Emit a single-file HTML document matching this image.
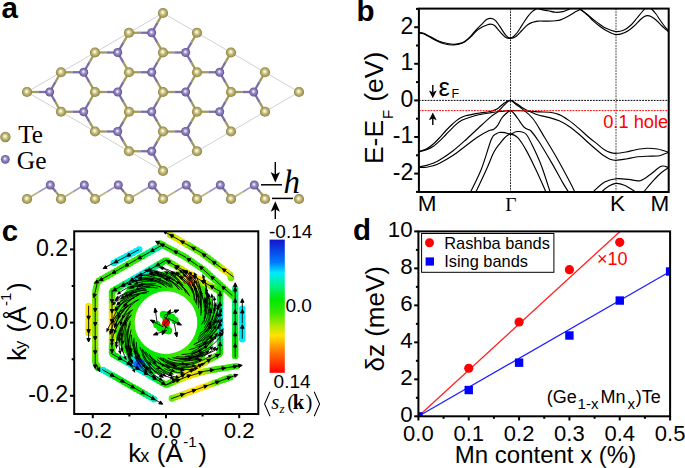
<!DOCTYPE html>
<html><head><meta charset="utf-8"><style>
html,body{margin:0;padding:0;background:#fff;width:685px;height:468px;overflow:hidden}
svg{display:block}
</style></head><body>
<svg width="685" height="468" viewBox="0 0 685 468">
<defs>
<radialGradient id="gTe" cx="0.5" cy="0.5" r="0.5" fx="0.45" fy="0.42">
 <stop offset="0" stop-color="#fffff4"/><stop offset="0.2" stop-color="#f2edc4"/><stop offset="0.45" stop-color="#c9c184"/><stop offset="0.8" stop-color="#a59b58"/><stop offset="1" stop-color="#847b42"/>
</radialGradient>
<radialGradient id="gGe" cx="0.5" cy="0.5" r="0.5" fx="0.45" fy="0.42">
 <stop offset="0" stop-color="#ffffff"/><stop offset="0.18" stop-color="#dcd6f2"/><stop offset="0.42" stop-color="#9d92c9"/><stop offset="0.78" stop-color="#7b6ca9"/><stop offset="1" stop-color="#5c4f8a"/>
</radialGradient>
<clipPath id="cb"><rect x="418.9" y="8.6" width="249.80000000000007" height="183.4"/></clipPath><clipPath id="cd"><rect x="418.4" y="231.4" width="251.7" height="184.9"/></clipPath><clipPath id="cc"><rect x="74.2" y="231.3" width="184.1" height="182.7"/></clipPath><linearGradient id="cbar" x1="0" y1="0" x2="0" y2="1"><stop offset="0" stop-color="rgb(20, 20, 205)"/><stop offset="0.17" stop-color="rgb(0, 120, 255)"/><stop offset="0.25" stop-color="rgb(0, 235, 255)"/><stop offset="0.35" stop-color="rgb(0, 240, 130)"/><stop offset="0.45" stop-color="rgb(0, 232, 0)"/><stop offset="0.55" stop-color="rgb(60, 232, 0)"/><stop offset="0.65" stop-color="rgb(180, 232, 0)"/><stop offset="0.72" stop-color="rgb(255, 228, 0)"/><stop offset="0.83" stop-color="rgb(255, 130, 0)"/><stop offset="1.0" stop-color="rgb(255, 0, 0)"/></linearGradient></defs>
<rect width="685" height="468" fill="#fff"/>
<text x="1.5" y="17.8" font-family='"Liberation Sans", sans-serif' font-size="29.5" font-weight="bold" text-anchor="start" fill="#000" >a</text>
<polygon points="27,92 163,13 299,92 163,171" fill="none" stroke="#c4c4c4" stroke-width="0.8"/>
<line x1="27" y1="92" x2="38.35" y2="92" stroke="#a39b5c" stroke-width="2.3"/>
<line x1="38.35" y1="92" x2="49.7" y2="92" stroke="#7b6fa6" stroke-width="2.3"/>
<line x1="61" y1="111.75" x2="55.35" y2="101.88" stroke="#a39b5c" stroke-width="2.3"/>
<line x1="55.35" y1="101.88" x2="49.7" y2="92" stroke="#7b6fa6" stroke-width="2.3"/>
<line x1="61" y1="111.75" x2="72.35" y2="111.75" stroke="#a39b5c" stroke-width="2.3"/>
<line x1="72.35" y1="111.75" x2="83.7" y2="111.75" stroke="#7b6fa6" stroke-width="2.3"/>
<line x1="95" y1="131.5" x2="89.35" y2="121.62" stroke="#a39b5c" stroke-width="2.3"/>
<line x1="89.35" y1="121.62" x2="83.7" y2="111.75" stroke="#7b6fa6" stroke-width="2.3"/>
<line x1="95" y1="131.5" x2="106.35" y2="131.5" stroke="#a39b5c" stroke-width="2.3"/>
<line x1="106.35" y1="131.5" x2="117.7" y2="131.5" stroke="#7b6fa6" stroke-width="2.3"/>
<line x1="129" y1="151.25" x2="123.35" y2="141.38" stroke="#a39b5c" stroke-width="2.3"/>
<line x1="123.35" y1="141.38" x2="117.7" y2="131.5" stroke="#7b6fa6" stroke-width="2.3"/>
<line x1="129" y1="151.25" x2="140.35" y2="151.25" stroke="#a39b5c" stroke-width="2.3"/>
<line x1="140.35" y1="151.25" x2="151.7" y2="151.25" stroke="#7b6fa6" stroke-width="2.3"/>
<line x1="163" y1="171" x2="157.35" y2="161.12" stroke="#a39b5c" stroke-width="2.3"/>
<line x1="157.35" y1="161.12" x2="151.7" y2="151.25" stroke="#7b6fa6" stroke-width="2.3"/>
<line x1="61" y1="72.25" x2="55.35" y2="82.12" stroke="#a39b5c" stroke-width="2.3"/>
<line x1="55.35" y1="82.12" x2="49.7" y2="92" stroke="#7b6fa6" stroke-width="2.3"/>
<line x1="61" y1="72.25" x2="72.35" y2="72.25" stroke="#a39b5c" stroke-width="2.3"/>
<line x1="72.35" y1="72.25" x2="83.7" y2="72.25" stroke="#7b6fa6" stroke-width="2.3"/>
<line x1="95" y1="92" x2="89.35" y2="101.88" stroke="#a39b5c" stroke-width="2.3"/>
<line x1="89.35" y1="101.88" x2="83.7" y2="111.75" stroke="#7b6fa6" stroke-width="2.3"/>
<line x1="95" y1="92" x2="89.35" y2="82.12" stroke="#a39b5c" stroke-width="2.3"/>
<line x1="89.35" y1="82.12" x2="83.7" y2="72.25" stroke="#7b6fa6" stroke-width="2.3"/>
<line x1="95" y1="92" x2="106.35" y2="92" stroke="#a39b5c" stroke-width="2.3"/>
<line x1="106.35" y1="92" x2="117.7" y2="92" stroke="#7b6fa6" stroke-width="2.3"/>
<line x1="129" y1="111.75" x2="123.35" y2="121.62" stroke="#a39b5c" stroke-width="2.3"/>
<line x1="123.35" y1="121.62" x2="117.7" y2="131.5" stroke="#7b6fa6" stroke-width="2.3"/>
<line x1="129" y1="111.75" x2="123.35" y2="101.88" stroke="#a39b5c" stroke-width="2.3"/>
<line x1="123.35" y1="101.88" x2="117.7" y2="92" stroke="#7b6fa6" stroke-width="2.3"/>
<line x1="129" y1="111.75" x2="140.35" y2="111.75" stroke="#a39b5c" stroke-width="2.3"/>
<line x1="140.35" y1="111.75" x2="151.7" y2="111.75" stroke="#7b6fa6" stroke-width="2.3"/>
<line x1="163" y1="131.5" x2="157.35" y2="141.38" stroke="#a39b5c" stroke-width="2.3"/>
<line x1="157.35" y1="141.38" x2="151.7" y2="151.25" stroke="#7b6fa6" stroke-width="2.3"/>
<line x1="163" y1="131.5" x2="157.35" y2="121.62" stroke="#a39b5c" stroke-width="2.3"/>
<line x1="157.35" y1="121.62" x2="151.7" y2="111.75" stroke="#7b6fa6" stroke-width="2.3"/>
<line x1="163" y1="131.5" x2="174.35" y2="131.5" stroke="#a39b5c" stroke-width="2.3"/>
<line x1="174.35" y1="131.5" x2="185.7" y2="131.5" stroke="#7b6fa6" stroke-width="2.3"/>
<line x1="197" y1="151.25" x2="191.35" y2="141.38" stroke="#a39b5c" stroke-width="2.3"/>
<line x1="191.35" y1="141.38" x2="185.7" y2="131.5" stroke="#7b6fa6" stroke-width="2.3"/>
<line x1="95" y1="52.5" x2="89.35" y2="62.38" stroke="#a39b5c" stroke-width="2.3"/>
<line x1="89.35" y1="62.38" x2="83.7" y2="72.25" stroke="#7b6fa6" stroke-width="2.3"/>
<line x1="95" y1="52.5" x2="106.35" y2="52.5" stroke="#a39b5c" stroke-width="2.3"/>
<line x1="106.35" y1="52.5" x2="117.7" y2="52.5" stroke="#7b6fa6" stroke-width="2.3"/>
<line x1="129" y1="72.25" x2="123.35" y2="82.12" stroke="#a39b5c" stroke-width="2.3"/>
<line x1="123.35" y1="82.12" x2="117.7" y2="92" stroke="#7b6fa6" stroke-width="2.3"/>
<line x1="129" y1="72.25" x2="123.35" y2="62.38" stroke="#a39b5c" stroke-width="2.3"/>
<line x1="123.35" y1="62.38" x2="117.7" y2="52.5" stroke="#7b6fa6" stroke-width="2.3"/>
<line x1="129" y1="72.25" x2="140.35" y2="72.25" stroke="#a39b5c" stroke-width="2.3"/>
<line x1="140.35" y1="72.25" x2="151.7" y2="72.25" stroke="#7b6fa6" stroke-width="2.3"/>
<line x1="163" y1="92" x2="157.35" y2="101.88" stroke="#a39b5c" stroke-width="2.3"/>
<line x1="157.35" y1="101.88" x2="151.7" y2="111.75" stroke="#7b6fa6" stroke-width="2.3"/>
<line x1="163" y1="92" x2="157.35" y2="82.12" stroke="#a39b5c" stroke-width="2.3"/>
<line x1="157.35" y1="82.12" x2="151.7" y2="72.25" stroke="#7b6fa6" stroke-width="2.3"/>
<line x1="163" y1="92" x2="174.35" y2="92" stroke="#a39b5c" stroke-width="2.3"/>
<line x1="174.35" y1="92" x2="185.7" y2="92" stroke="#7b6fa6" stroke-width="2.3"/>
<line x1="197" y1="111.75" x2="191.35" y2="121.62" stroke="#a39b5c" stroke-width="2.3"/>
<line x1="191.35" y1="121.62" x2="185.7" y2="131.5" stroke="#7b6fa6" stroke-width="2.3"/>
<line x1="197" y1="111.75" x2="191.35" y2="101.88" stroke="#a39b5c" stroke-width="2.3"/>
<line x1="191.35" y1="101.88" x2="185.7" y2="92" stroke="#7b6fa6" stroke-width="2.3"/>
<line x1="197" y1="111.75" x2="208.35" y2="111.75" stroke="#a39b5c" stroke-width="2.3"/>
<line x1="208.35" y1="111.75" x2="219.7" y2="111.75" stroke="#7b6fa6" stroke-width="2.3"/>
<line x1="231" y1="131.5" x2="225.35" y2="121.62" stroke="#a39b5c" stroke-width="2.3"/>
<line x1="225.35" y1="121.62" x2="219.7" y2="111.75" stroke="#7b6fa6" stroke-width="2.3"/>
<line x1="129" y1="32.75" x2="123.35" y2="42.62" stroke="#a39b5c" stroke-width="2.3"/>
<line x1="123.35" y1="42.62" x2="117.7" y2="52.5" stroke="#7b6fa6" stroke-width="2.3"/>
<line x1="129" y1="32.75" x2="140.35" y2="32.75" stroke="#a39b5c" stroke-width="2.3"/>
<line x1="140.35" y1="32.75" x2="151.7" y2="32.75" stroke="#7b6fa6" stroke-width="2.3"/>
<line x1="163" y1="52.5" x2="157.35" y2="62.38" stroke="#a39b5c" stroke-width="2.3"/>
<line x1="157.35" y1="62.38" x2="151.7" y2="72.25" stroke="#7b6fa6" stroke-width="2.3"/>
<line x1="163" y1="52.5" x2="157.35" y2="42.62" stroke="#a39b5c" stroke-width="2.3"/>
<line x1="157.35" y1="42.62" x2="151.7" y2="32.75" stroke="#7b6fa6" stroke-width="2.3"/>
<line x1="163" y1="52.5" x2="174.35" y2="52.5" stroke="#a39b5c" stroke-width="2.3"/>
<line x1="174.35" y1="52.5" x2="185.7" y2="52.5" stroke="#7b6fa6" stroke-width="2.3"/>
<line x1="197" y1="72.25" x2="191.35" y2="82.12" stroke="#a39b5c" stroke-width="2.3"/>
<line x1="191.35" y1="82.12" x2="185.7" y2="92" stroke="#7b6fa6" stroke-width="2.3"/>
<line x1="197" y1="72.25" x2="191.35" y2="62.38" stroke="#a39b5c" stroke-width="2.3"/>
<line x1="191.35" y1="62.38" x2="185.7" y2="52.5" stroke="#7b6fa6" stroke-width="2.3"/>
<line x1="197" y1="72.25" x2="208.35" y2="72.25" stroke="#a39b5c" stroke-width="2.3"/>
<line x1="208.35" y1="72.25" x2="219.7" y2="72.25" stroke="#7b6fa6" stroke-width="2.3"/>
<line x1="231" y1="92" x2="225.35" y2="101.88" stroke="#a39b5c" stroke-width="2.3"/>
<line x1="225.35" y1="101.88" x2="219.7" y2="111.75" stroke="#7b6fa6" stroke-width="2.3"/>
<line x1="231" y1="92" x2="225.35" y2="82.12" stroke="#a39b5c" stroke-width="2.3"/>
<line x1="225.35" y1="82.12" x2="219.7" y2="72.25" stroke="#7b6fa6" stroke-width="2.3"/>
<line x1="231" y1="92" x2="242.35" y2="92" stroke="#a39b5c" stroke-width="2.3"/>
<line x1="242.35" y1="92" x2="253.7" y2="92" stroke="#7b6fa6" stroke-width="2.3"/>
<line x1="265" y1="111.75" x2="259.35" y2="101.88" stroke="#a39b5c" stroke-width="2.3"/>
<line x1="259.35" y1="101.88" x2="253.7" y2="92" stroke="#7b6fa6" stroke-width="2.3"/>
<line x1="163" y1="13" x2="157.35" y2="22.88" stroke="#a39b5c" stroke-width="2.3"/>
<line x1="157.35" y1="22.88" x2="151.7" y2="32.75" stroke="#7b6fa6" stroke-width="2.3"/>
<line x1="197" y1="32.75" x2="191.35" y2="42.62" stroke="#a39b5c" stroke-width="2.3"/>
<line x1="191.35" y1="42.62" x2="185.7" y2="52.5" stroke="#7b6fa6" stroke-width="2.3"/>
<line x1="231" y1="52.5" x2="225.35" y2="62.38" stroke="#a39b5c" stroke-width="2.3"/>
<line x1="225.35" y1="62.38" x2="219.7" y2="72.25" stroke="#7b6fa6" stroke-width="2.3"/>
<line x1="265" y1="72.25" x2="259.35" y2="82.12" stroke="#a39b5c" stroke-width="2.3"/>
<line x1="259.35" y1="82.12" x2="253.7" y2="92" stroke="#7b6fa6" stroke-width="2.3"/>
<circle cx="27" cy="92" r="5.1" fill="url(#gTe)"/>
<circle cx="61" cy="111.75" r="5.1" fill="url(#gTe)"/>
<circle cx="95" cy="131.5" r="5.1" fill="url(#gTe)"/>
<circle cx="129" cy="151.25" r="5.1" fill="url(#gTe)"/>
<circle cx="163" cy="171" r="5.1" fill="url(#gTe)"/>
<circle cx="61" cy="72.25" r="5.1" fill="url(#gTe)"/>
<circle cx="95" cy="92" r="5.1" fill="url(#gTe)"/>
<circle cx="129" cy="111.75" r="5.1" fill="url(#gTe)"/>
<circle cx="163" cy="131.5" r="5.1" fill="url(#gTe)"/>
<circle cx="197" cy="151.25" r="5.1" fill="url(#gTe)"/>
<circle cx="95" cy="52.5" r="5.1" fill="url(#gTe)"/>
<circle cx="129" cy="72.25" r="5.1" fill="url(#gTe)"/>
<circle cx="163" cy="92" r="5.1" fill="url(#gTe)"/>
<circle cx="197" cy="111.75" r="5.1" fill="url(#gTe)"/>
<circle cx="231" cy="131.5" r="5.1" fill="url(#gTe)"/>
<circle cx="129" cy="32.75" r="5.1" fill="url(#gTe)"/>
<circle cx="163" cy="52.5" r="5.1" fill="url(#gTe)"/>
<circle cx="197" cy="72.25" r="5.1" fill="url(#gTe)"/>
<circle cx="231" cy="92" r="5.1" fill="url(#gTe)"/>
<circle cx="265" cy="111.75" r="5.1" fill="url(#gTe)"/>
<circle cx="163" cy="13" r="5.1" fill="url(#gTe)"/>
<circle cx="197" cy="32.75" r="5.1" fill="url(#gTe)"/>
<circle cx="231" cy="52.5" r="5.1" fill="url(#gTe)"/>
<circle cx="265" cy="72.25" r="5.1" fill="url(#gTe)"/>
<circle cx="299" cy="92" r="5.1" fill="url(#gTe)"/>
<circle cx="49.7" cy="92" r="4.5" fill="url(#gGe)"/>
<circle cx="83.7" cy="111.75" r="4.5" fill="url(#gGe)"/>
<circle cx="117.7" cy="131.5" r="4.5" fill="url(#gGe)"/>
<circle cx="151.7" cy="151.25" r="4.5" fill="url(#gGe)"/>
<circle cx="83.7" cy="72.25" r="4.5" fill="url(#gGe)"/>
<circle cx="117.7" cy="92" r="4.5" fill="url(#gGe)"/>
<circle cx="151.7" cy="111.75" r="4.5" fill="url(#gGe)"/>
<circle cx="185.7" cy="131.5" r="4.5" fill="url(#gGe)"/>
<circle cx="117.7" cy="52.5" r="4.5" fill="url(#gGe)"/>
<circle cx="151.7" cy="72.25" r="4.5" fill="url(#gGe)"/>
<circle cx="185.7" cy="92" r="4.5" fill="url(#gGe)"/>
<circle cx="219.7" cy="111.75" r="4.5" fill="url(#gGe)"/>
<circle cx="151.7" cy="32.75" r="4.5" fill="url(#gGe)"/>
<circle cx="185.7" cy="52.5" r="4.5" fill="url(#gGe)"/>
<circle cx="219.7" cy="72.25" r="4.5" fill="url(#gGe)"/>
<circle cx="253.7" cy="92" r="4.5" fill="url(#gGe)"/>
<line x1="27" y1="199" x2="38.65" y2="192" stroke="#bdb680" stroke-width="1.8"/>
<line x1="38.65" y1="192" x2="50.3" y2="185" stroke="#a49bc6" stroke-width="1.8"/>
<line x1="50.3" y1="185" x2="56.05" y2="192" stroke="#7b6fa6" stroke-width="2.3"/>
<line x1="56.05" y1="192" x2="61.8" y2="199" stroke="#a39b5c" stroke-width="2.3"/>
<line x1="61" y1="199" x2="72.65" y2="192" stroke="#bdb680" stroke-width="1.8"/>
<line x1="72.65" y1="192" x2="84.3" y2="185" stroke="#a49bc6" stroke-width="1.8"/>
<line x1="84.3" y1="185" x2="90.05" y2="192" stroke="#7b6fa6" stroke-width="2.3"/>
<line x1="90.05" y1="192" x2="95.8" y2="199" stroke="#a39b5c" stroke-width="2.3"/>
<line x1="95" y1="199" x2="106.65" y2="192" stroke="#bdb680" stroke-width="1.8"/>
<line x1="106.65" y1="192" x2="118.3" y2="185" stroke="#a49bc6" stroke-width="1.8"/>
<line x1="118.3" y1="185" x2="124.05" y2="192" stroke="#7b6fa6" stroke-width="2.3"/>
<line x1="124.05" y1="192" x2="129.8" y2="199" stroke="#a39b5c" stroke-width="2.3"/>
<line x1="129" y1="199" x2="140.65" y2="192" stroke="#bdb680" stroke-width="1.8"/>
<line x1="140.65" y1="192" x2="152.3" y2="185" stroke="#a49bc6" stroke-width="1.8"/>
<line x1="152.3" y1="185" x2="158.05" y2="192" stroke="#7b6fa6" stroke-width="2.3"/>
<line x1="158.05" y1="192" x2="163.8" y2="199" stroke="#a39b5c" stroke-width="2.3"/>
<line x1="163" y1="199" x2="174.65" y2="192" stroke="#bdb680" stroke-width="1.8"/>
<line x1="174.65" y1="192" x2="186.3" y2="185" stroke="#a49bc6" stroke-width="1.8"/>
<line x1="186.3" y1="185" x2="192.05" y2="192" stroke="#7b6fa6" stroke-width="2.3"/>
<line x1="192.05" y1="192" x2="197.8" y2="199" stroke="#a39b5c" stroke-width="2.3"/>
<line x1="197" y1="199" x2="208.65" y2="192" stroke="#bdb680" stroke-width="1.8"/>
<line x1="208.65" y1="192" x2="220.3" y2="185" stroke="#a49bc6" stroke-width="1.8"/>
<line x1="220.3" y1="185" x2="226.05" y2="192" stroke="#7b6fa6" stroke-width="2.3"/>
<line x1="226.05" y1="192" x2="231.8" y2="199" stroke="#a39b5c" stroke-width="2.3"/>
<line x1="231" y1="199" x2="242.65" y2="192" stroke="#bdb680" stroke-width="1.8"/>
<line x1="242.65" y1="192" x2="254.3" y2="185" stroke="#a49bc6" stroke-width="1.8"/>
<line x1="254.3" y1="185" x2="260.05" y2="192" stroke="#7b6fa6" stroke-width="2.3"/>
<line x1="260.05" y1="192" x2="265.8" y2="199" stroke="#a39b5c" stroke-width="2.3"/>
<circle cx="27" cy="199" r="5.1" fill="url(#gTe)"/>
<circle cx="61" cy="199" r="5.1" fill="url(#gTe)"/>
<circle cx="95" cy="199" r="5.1" fill="url(#gTe)"/>
<circle cx="129" cy="199" r="5.1" fill="url(#gTe)"/>
<circle cx="163" cy="199" r="5.1" fill="url(#gTe)"/>
<circle cx="197" cy="199" r="5.1" fill="url(#gTe)"/>
<circle cx="231" cy="199" r="5.1" fill="url(#gTe)"/>
<circle cx="265" cy="199" r="5.1" fill="url(#gTe)"/>
<circle cx="299" cy="199" r="5.1" fill="url(#gTe)"/>
<circle cx="50.3" cy="185" r="4.5" fill="url(#gGe)"/>
<circle cx="84.3" cy="185" r="4.5" fill="url(#gGe)"/>
<circle cx="118.3" cy="185" r="4.5" fill="url(#gGe)"/>
<circle cx="152.3" cy="185" r="4.5" fill="url(#gGe)"/>
<circle cx="186.3" cy="185" r="4.5" fill="url(#gGe)"/>
<circle cx="220.3" cy="185" r="4.5" fill="url(#gGe)"/>
<circle cx="254.3" cy="185" r="4.5" fill="url(#gGe)"/>
<circle cx="5.4" cy="137" r="5.2" fill="url(#gTe)"/>
<circle cx="5.3" cy="159.3" r="4.4" fill="url(#gGe)"/>
<text x="18.2" y="142.5" font-family='"Liberation Serif", serif' font-size="25.2" font-weight="normal" text-anchor="start" fill="#000" >Te</text>
<text x="16.8" y="168.7" font-family='"Liberation Serif", serif' font-size="25.5" font-weight="normal" text-anchor="start" fill="#000" >Ge</text>
<line x1="261" y1="184.8" x2="282" y2="184.8" stroke="#000" stroke-width="1.5"/>
<line x1="272" y1="198.4" x2="293" y2="198.4" stroke="#000" stroke-width="1.5"/>
<line x1="275.3" y1="162" x2="275.3" y2="175" stroke="#000" stroke-width="1.4"/>
<path d="M270.6,172 L275.3,182.6 L280,172 L275.3,174.5 Z" fill="#000"/>
<line x1="275.3" y1="219" x2="275.3" y2="208" stroke="#000" stroke-width="1.4"/>
<path d="M270.7,211.8 L275.3,201.3 L279.9,211.8 L275.3,209.3 Z" fill="#000"/>
<text x="283.5" y="192.8" font-family='"Liberation Serif", serif' font-size="33" font-weight="normal" text-anchor="start" fill="#000" font-style="italic">h</text>
<text x="356.6" y="21.2" font-family='"Liberation Sans", sans-serif' font-size="29.5" font-weight="bold" text-anchor="start" fill="#000" >b</text>
<line x1="418.9" y1="100.4" x2="668.7" y2="100.4" stroke="#000" stroke-width="1" stroke-dasharray="1.8,1.1"/>
<line x1="510.5" y1="8.6" x2="510.5" y2="192.0" stroke="#222" stroke-width="1" stroke-dasharray="1.8,1"/>
<line x1="616" y1="8.6" x2="616" y2="192.0" stroke="#444" stroke-width="1" stroke-dasharray="1.8,1"/>
<g clip-path="url(#cb)" fill="none" stroke="#000" stroke-width="1.15">
<path d="M419,32.6 C419.8,32.72 422.03,32.68 423.8,33.3 C425.57,33.92 427.42,35.15 429.6,36.3 C431.78,37.45 434.47,39.12 436.9,40.2 C439.33,41.28 441.52,42.12 444.2,42.8 C446.88,43.48 450.57,44.17 453,44.3 C455.43,44.43 456.87,44.08 458.8,43.6 C460.73,43.12 462.65,42.62 464.6,41.4 C466.55,40.18 468.55,38.25 470.5,36.3 C472.45,34.35 474.35,31.78 476.3,29.7 C478.25,27.62 480.5,25.48 482.2,23.8 C483.9,22.12 485.05,20.5 486.5,19.6 C487.95,18.7 489.43,18.28 490.9,18.4 C492.37,18.52 493.6,18.65 495.3,20.3 C497,21.95 499.4,25.88 501.1,28.3 C502.8,30.72 503.98,33.17 505.5,34.8 C507.02,36.43 508.45,38.2 510.2,38.1 C511.95,38 514.05,36.32 516,34.2 C517.95,32.08 519.95,28.32 521.9,25.4 C523.85,22.48 526,19 527.7,16.7 C529.4,14.4 530.75,12.85 532.1,11.6 C533.45,10.35 534.65,9.88 535.8,9.2 C536.95,8.52 538.47,7.78 539,7.5"/>
<path d="M419,33.2 C419.8,33.33 422.03,33.37 423.8,34 C425.57,34.63 427.42,35.83 429.6,37 C431.78,38.17 434.47,39.88 436.9,41 C439.33,42.12 441.52,43.03 444.2,43.7 C446.88,44.37 450.57,44.9 453,45 C455.43,45.1 456.87,44.8 458.8,44.3 C460.73,43.8 462.65,43.18 464.6,42 C466.55,40.82 468.55,39.03 470.5,37.2 C472.45,35.37 474.35,32.7 476.3,31 C478.25,29.3 480.5,27.97 482.2,27 C483.9,26.03 485.17,25.68 486.5,25.2 C487.83,24.72 488.85,24.05 490.2,24.1 C491.55,24.15 493.02,24.28 494.6,25.5 C496.18,26.72 497.88,29.45 499.7,31.4 C501.52,33.35 503.75,36.03 505.5,37.2 C507.25,38.37 508.45,38.53 510.2,38.4 C511.95,38.27 514.05,37.72 516,36.4 C517.95,35.08 519.95,32.45 521.9,30.5 C523.85,28.55 526,26.03 527.7,24.7 C529.4,23.37 530.38,23.1 532.1,22.5 C533.82,21.9 535.57,21.33 538,21.1 C540.43,20.87 543.78,21.15 546.7,21.1 C549.62,21.05 553.07,21.05 555.5,20.8 C557.93,20.55 559.12,20.4 561.3,19.6 C563.48,18.8 566.17,17.33 568.6,16 C571.03,14.67 573.95,12.68 575.9,11.6 C577.85,10.52 578.95,10.18 580.3,9.5 C581.65,8.82 583.38,7.83 584,7.5"/>
<path d="M536,7.5 C536.83,7.82 538.97,8.85 541,9.4 C543.03,9.95 545.78,10.32 548.2,10.8 C550.62,11.28 553.07,12.17 555.5,12.3 C557.93,12.43 560.62,12.08 562.8,11.6 C564.98,11.12 567.07,10.08 568.6,9.4 C570.13,8.72 571.43,7.82 572,7.5"/>
<path d="M574,6.5 C575,6.95 578,8.03 580,9.2 C582,10.37 583.75,11.77 586,13.5 C588.25,15.23 591.17,17.77 593.5,19.6 C595.83,21.43 597.92,23.05 600,24.5 C602.08,25.95 603.38,27.13 606,28.3 C608.62,29.47 612.7,31.22 615.7,31.5 C618.7,31.78 621.45,31.08 624,30 C626.55,28.92 628.83,27 631,25 C633.17,23 635.17,20.17 637,18 C638.83,15.83 640.5,13.75 642,12 C643.5,10.25 645.33,8.25 646,7.5"/>
<path d="M576,6.5 C577,7.17 580,9 582,10.5 C584,12 586.08,13.72 588,15.5 C589.92,17.28 591.5,19.37 593.5,21.2 C595.5,23.03 597.75,24.87 600,26.5 C602.25,28.13 604.38,29.65 607,31 C609.62,32.35 612.7,34.35 615.7,34.6 C618.7,34.85 622.12,33.77 625,32.5 C627.88,31.23 630.5,29.08 633,27 C635.5,24.92 638.17,21.7 640,20 C641.83,18.3 642.75,17.53 644,16.8 C645.25,16.07 646.33,15.65 647.5,15.6 C648.67,15.55 649.58,15.77 651,16.5 C652.42,17.23 654.17,18.42 656,20 C657.83,21.58 659.88,24 662,26 C664.12,28 667.58,31 668.7,32"/>
<path d="M649,7.5 C649.5,7.83 650.83,8.42 652,9.5 C653.17,10.58 654.67,12.25 656,14 C657.33,15.75 658.67,18.08 660,20 C661.33,21.92 662.55,23.67 664,25.5 C665.45,27.33 667.92,30.08 668.7,31"/>
<path d="M419,151.5 C420.28,151.05 424.37,150 426.7,148.8 C429.03,147.6 430.78,146.22 433,144.3 C435.22,142.38 437.83,139.6 440,137.3 C442.17,135 443.87,132.75 446,130.5 C448.13,128.25 450.63,125.75 452.8,123.8 C454.97,121.85 456.87,120.13 459,118.8 C461.13,117.47 462.35,116.73 465.6,115.8 C468.85,114.87 474.43,113.92 478.5,113.2 C482.57,112.48 486.92,112.2 490,111.5 C493.08,110.8 494.75,110.3 497,109 C499.25,107.7 501.25,105.13 503.5,103.7 C505.75,102.27 508.3,100.38 510.5,100.4 C512.7,100.42 514.78,102.62 516.7,103.8 C518.62,104.98 520.3,106.42 522,107.5 C523.7,108.58 524.87,109.3 526.9,110.3 C528.93,111.3 532.02,112.63 534.2,113.5 C536.38,114.37 537.43,114.82 540,115.5 C542.57,116.18 546.4,116.72 549.6,117.6 C552.8,118.48 556,119.37 559.2,120.8 C562.4,122.23 565.58,124.03 568.8,126.2 C572.02,128.37 575.28,131.08 578.5,133.8 C581.72,136.52 585.22,139.93 588.1,142.5 C590.98,145.07 593.15,146.98 595.8,149.2 C598.45,151.42 601.63,154.13 604,155.8 C606.37,157.47 608,158.45 610,159.2 C612,159.95 613.33,160.33 616,160.3 C618.67,160.27 622.67,159.55 626,159 C629.33,158.45 632.5,157.47 636,157 C639.5,156.53 643.42,156.37 647,156.2 C650.58,156.03 654.83,156.28 657.5,156 C660.17,155.72 661.13,155.12 663,154.5 C664.87,153.88 667.75,152.67 668.7,152.3"/>
<path d="M419,167 C420.28,166.73 424.37,166.02 426.7,165.4 C429.03,164.78 430.78,164.23 433,163.3 C435.22,162.37 436.7,161.85 440,159.8 C443.3,157.75 448.53,154.3 452.8,151 C457.07,147.7 461.32,143.83 465.6,140 C469.88,136.17 474.22,131.93 478.5,128 C482.78,124.07 488.1,119.08 491.3,116.4 C494.5,113.72 495.47,113.88 497.7,111.9 C499.93,109.92 502.57,106.42 504.7,104.5 C506.83,102.58 508.62,100.4 510.5,100.4 C512.38,100.4 514.07,103.08 516,104.5 C517.93,105.92 519.3,106.57 522.1,108.9 C524.9,111.23 529.23,114.05 532.8,118.5 C536.37,122.95 539.58,129.18 543.5,135.6 C547.42,142.02 552.03,149.52 556.3,157 C560.57,164.48 566.08,174.8 569.1,180.5 C572.12,186.2 573.25,188.78 574.4,191.2 C575.55,193.62 575.73,194.37 576,195"/>
<path d="M419,151.8 C420.28,151.43 424.37,150.48 426.7,149.6 C429.03,148.72 430.78,148 433,146.5 C435.22,145 437.83,142.6 440,140.6 C442.17,138.6 443.87,136.67 446,134.5 C448.13,132.33 450.63,129.68 452.8,127.6 C454.97,125.52 456.87,123.47 459,122 C461.13,120.53 462.35,120 465.6,118.8 C468.85,117.6 474.22,115.83 478.5,114.8 C482.78,113.77 487.72,113.15 491.3,112.6 C494.88,112.05 496.8,111.83 500,111.5 C503.2,111.17 507.17,110.72 510.5,110.6 C513.83,110.48 516.75,110.7 520,110.8 C523.25,110.9 526.67,111.02 530,111.2 C533.33,111.38 536.73,111.72 540,111.9 C543.27,112.08 546.4,111.85 549.6,112.3 C552.8,112.75 556,113.25 559.2,114.6 C562.4,115.95 565.58,118.15 568.8,120.4 C572.02,122.65 575.28,125.38 578.5,128.1 C581.72,130.82 584.9,133.98 588.1,136.7 C591.3,139.42 595.05,142.27 597.7,144.4 C600.35,146.53 601.95,148.17 604,149.5 C606.05,150.83 608,151.77 610,152.4 C612,153.03 613.33,153.37 616,153.3 C618.67,153.23 622.67,152.6 626,152 C629.33,151.4 632.5,150.32 636,149.7 C639.5,149.08 643.42,148.42 647,148.3 C650.58,148.18 654.83,148.63 657.5,149 C660.17,149.37 661.13,149.95 663,150.5 C664.87,151.05 667.75,152 668.7,152.3"/>
<path d="M419,167.6 C420.28,167.53 424.37,167.5 426.7,167.2 C429.03,166.9 430.78,166.5 433,165.8 C435.22,165.1 436.7,164.7 440,163 C443.3,161.3 448.53,158.43 452.8,155.6 C457.07,152.77 461.32,149.18 465.6,146 C469.88,142.82 474.65,139.03 478.5,136.5 C482.35,133.97 486.15,132.02 488.7,130.8 C491.25,129.58 492.3,130.1 493.8,129.2 C495.3,128.3 496.37,127.27 497.7,125.4 C499.03,123.53 500.38,119.98 501.8,118 C503.22,116.02 504.75,114.73 506.2,113.5 C507.65,112.27 509.2,110.6 510.5,110.6 C511.8,110.6 512.78,112.18 514,113.5 C515.22,114.82 516.55,116.75 517.8,118.5 C519.05,120.25 520.38,122.5 521.5,124 C522.62,125.5 523.42,126.58 524.5,127.5 C525.58,128.42 526.92,128.92 528,129.5 C529.08,130.08 529.13,128.92 531,131 C532.87,133.08 535.7,136.6 539.2,142 C542.7,147.4 548.08,156.63 552,163.4 C555.92,170.17 559.85,177.67 562.7,182.6 C565.55,187.53 567.88,190.93 569.1,193 C570.32,195.07 569.85,194.67 570,195"/>
<path d="M468,197 C470.17,192.5 477.12,179.58 481,170 C484.88,160.42 488.73,145.55 491.3,139.5 C493.87,133.45 494.95,134.88 496.4,133.7 C497.85,132.52 498.62,132.58 500,132.4 C501.38,132.22 502.95,132.32 504.7,132.6 C506.45,132.88 508.67,134.23 510.5,134.1 C512.33,133.97 513.95,132.18 515.7,131.8 C517.45,131.42 519.22,131.35 521,131.8 C522.78,132.25 524.43,132.08 526.4,134.5 C528.37,136.92 530.32,141.13 532.8,146.3 C535.28,151.47 538.45,158.02 541.3,165.5 C544.15,172.98 548.28,186.28 549.9,191.2 C551.52,196.12 550.82,194.37 551,195"/>
<path d="M473.5,197 C475.62,192.5 482.82,177.45 486.2,170 C489.58,162.55 491.5,156.75 493.8,152.3 C496.1,147.85 498.13,145.77 500,143.3 C501.87,140.83 503.25,139.03 505,137.5 C506.75,135.97 508.37,134.07 510.5,134.1 C512.63,134.13 515.15,134.95 517.8,137.7 C520.45,140.45 523.55,145.62 526.4,150.6 C529.25,155.58 531.7,160.83 534.9,167.6 C538.1,174.37 543.58,186.63 545.6,191.2 C547.62,195.77 546.77,194.37 547,195"/>
<path d="M590,196 C590.58,195.25 591.05,193.83 593.5,191.5 C595.95,189.17 600.93,184.12 604.7,182 C608.47,179.88 612.15,179.23 616.1,178.8 C620.05,178.37 624.38,179.08 628.4,179.4 C632.42,179.72 636.48,181.57 640.2,180.7 C643.92,179.83 647.2,176.6 650.7,174.2 C654.2,171.8 658.2,167.4 661.2,166.3 C664.2,165.2 667.45,167.38 668.7,167.6"/>
<path d="M599,196 C599.52,195.25 600.43,193.17 602.1,191.5 C603.77,189.83 606.67,187.35 609,186 C611.33,184.65 613.53,183.52 616.1,183.4 C618.67,183.28 621.27,183.95 624.4,185.3 C627.53,186.65 632.63,190.05 634.9,191.5 C637.17,192.95 637.48,193.58 638,194"/>
<path d="M641,196 C641.52,195.25 642.05,194.05 644.1,191.5 C646.15,188.95 650.45,183.82 653.3,180.7 C656.15,177.58 658.63,174.98 661.2,172.8 C663.77,170.62 667.45,168.47 668.7,167.6"/>
</g>
<line x1="418.9" y1="110.6" x2="668.7" y2="110.6" stroke="#f00" stroke-width="1" stroke-dasharray="1.8,1.1"/>
<rect x="418.9" y="8.6" width="249.8" height="183.4" fill="none" stroke="#000" stroke-width="2"/>
<line x1="414.2" y1="173.6" x2="418.9" y2="173.6" stroke="#000" stroke-width="2"/>
<text x="413.3" y="179.9" font-family='"Liberation Sans", sans-serif' font-size="23" font-weight="normal" text-anchor="end" fill="#000" >-2</text>
<line x1="414.2" y1="137" x2="418.9" y2="137" stroke="#000" stroke-width="2"/>
<text x="413.3" y="143.3" font-family='"Liberation Sans", sans-serif' font-size="23" font-weight="normal" text-anchor="end" fill="#000" >-1</text>
<line x1="414.2" y1="100.4" x2="418.9" y2="100.4" stroke="#000" stroke-width="2"/>
<text x="413.3" y="106.7" font-family='"Liberation Sans", sans-serif' font-size="23" font-weight="normal" text-anchor="end" fill="#000" >0</text>
<line x1="414.2" y1="63.8" x2="418.9" y2="63.8" stroke="#000" stroke-width="2"/>
<text x="413.3" y="70.1" font-family='"Liberation Sans", sans-serif' font-size="23" font-weight="normal" text-anchor="end" fill="#000" >1</text>
<line x1="414.2" y1="27.2" x2="418.9" y2="27.2" stroke="#000" stroke-width="2"/>
<text x="413.3" y="33.5" font-family='"Liberation Sans", sans-serif' font-size="23" font-weight="normal" text-anchor="end" fill="#000" >2</text>
<line x1="416" y1="191.9" x2="418.9" y2="191.9" stroke="#000" stroke-width="2"/>
<line x1="416" y1="155.3" x2="418.9" y2="155.3" stroke="#000" stroke-width="2"/>
<line x1="416" y1="118.7" x2="418.9" y2="118.7" stroke="#000" stroke-width="2"/>
<line x1="416" y1="82.1" x2="418.9" y2="82.1" stroke="#000" stroke-width="2"/>
<line x1="416" y1="45.5" x2="418.9" y2="45.5" stroke="#000" stroke-width="2"/>
<line x1="416" y1="8.9" x2="418.9" y2="8.9" stroke="#000" stroke-width="2"/>
<text x="417.8" y="210.8" font-family='"Liberation Sans", sans-serif' font-size="22.5" font-weight="normal" text-anchor="start" fill="#000" >M</text>
<text x="510.8" y="211.1" font-family='"Liberation Serif", serif' font-size="19.5" font-weight="normal" text-anchor="middle" fill="#000" >Γ</text>
<text x="617.4" y="210.8" font-family='"Liberation Sans", sans-serif' font-size="22.5" font-weight="normal" text-anchor="middle" fill="#000" >K</text>
<text x="669.3" y="210.8" font-family='"Liberation Sans", sans-serif' font-size="22.5" font-weight="normal" text-anchor="end" fill="#000" >M</text>
<g transform="translate(382.8,164) rotate(-90)" font-family='"Liberation Sans", sans-serif'><text x="0" y="0" font-size="26.4">E-E</text><text x="45" y="10" font-size="15">F</text><text x="62.2" y="0" font-size="26.6">(eV)</text></g>
<line x1="432.8" y1="85" x2="432.8" y2="92" stroke="#000" stroke-width="1.4"/>
<path d="M428.9,90.5 L432.8,98.3 L436.7,90.5 L432.8,92.3 Z" fill="#000"/>
<line x1="432.8" y1="125" x2="432.8" y2="118" stroke="#000" stroke-width="1.4"/>
<path d="M428.9,120.3 L432.8,112.6 L436.7,120.3 L432.8,118.5 Z" fill="#000"/>
<text x="438.4" y="95.8" font-family='"Liberation Sans", sans-serif' font-size="25.5" font-weight="normal" text-anchor="start" fill="#000" >ε</text>
<text x="451.5" y="98.3" font-family='"Liberation Sans", sans-serif' font-size="12.5" font-weight="normal" text-anchor="start" fill="#000" >F</text>
<text x="603.2" y="128.2" font-family='"Liberation Sans", sans-serif' font-size="18.3" font-weight="normal" text-anchor="start" fill="#f00" >0.1 hole</text>
<text x="353" y="239.8" font-family='"Liberation Sans", sans-serif' font-size="29.5" font-weight="bold" text-anchor="start" fill="#000" >d</text>
<g clip-path="url(#cd)">
<line x1="418.4" y1="416.3" x2="670.1" y2="271.52" stroke="#1f1fff" stroke-width="1.3"/>
<line x1="418.4" y1="416.3" x2="644.93" y2="208.62" stroke="#ff2020" stroke-width="1.3"/>
<rect x="414.2" y="412.1" width="8.4" height="8.4" fill="#0000ff"/>
<rect x="464.54" y="385.84" width="8.4" height="8.4" fill="#0000ff"/>
<rect x="514.88" y="358.48" width="8.4" height="8.4" fill="#0000ff"/>
<rect x="565.22" y="331.3" width="8.4" height="8.4" fill="#0000ff"/>
<rect x="615.56" y="296.35" width="8.4" height="8.4" fill="#0000ff"/>
<rect x="665.9" y="267.32" width="8.4" height="8.4" fill="#0000ff"/>
<circle cx="468.74" cy="368.23" r="4.6" fill="#ff0000"/>
<circle cx="519.08" cy="322" r="4.6" fill="#ff0000"/>
<circle cx="569.42" cy="269.67" r="4.6" fill="#ff0000"/>
<circle cx="619.76" cy="242.31" r="4.6" fill="#ff0000"/>
</g>
<rect x="421.6" y="233.5" width="132.3" height="38.8" fill="#fff" stroke="#000" stroke-width="1"/>
<circle cx="429.5" cy="242.8" r="4.5" fill="#f00"/>
<rect x="425.6" y="257.4" width="8.4" height="8.2" fill="#00f"/>
<text x="444.2" y="248.6" font-family='"Liberation Sans", sans-serif' font-size="16.4" font-weight="normal" text-anchor="start" fill="#000" >Rashba bands</text>
<text x="444.2" y="267.4" font-family='"Liberation Sans", sans-serif' font-size="16.4" font-weight="normal" text-anchor="start" fill="#000" >Ising bands</text>
<text x="597" y="264.6" font-family='"Liberation Sans", sans-serif' font-size="18" font-weight="normal" text-anchor="start" fill="#f00" >×10</text>
<g font-family='"Liberation Sans", sans-serif' font-size="18"><text x="546.8" y="402.8">(Ge</text><text x="577.6" y="409.4" font-size="15">1-x</text><text x="600.4" y="402.8">Mn</text><text x="627.4" y="409.4" font-size="15">x</text><text x="635.7" y="402.8">)Te</text></g>
<rect x="418.4" y="231.4" width="251.7" height="184.9" fill="none" stroke="#000" stroke-width="2"/>
<line x1="414.2" y1="416.3" x2="418.4" y2="416.3" stroke="#000" stroke-width="2"/>
<text x="412.6" y="422" font-family='"Liberation Sans", sans-serif' font-size="22.3" font-weight="normal" text-anchor="end" fill="#000" >0</text>
<line x1="415.9" y1="397.81" x2="418.4" y2="397.81" stroke="#000" stroke-width="2"/>
<line x1="414.2" y1="379.32" x2="418.4" y2="379.32" stroke="#000" stroke-width="2"/>
<text x="412.6" y="385.02" font-family='"Liberation Sans", sans-serif' font-size="22.3" font-weight="normal" text-anchor="end" fill="#000" >2</text>
<line x1="415.9" y1="360.83" x2="418.4" y2="360.83" stroke="#000" stroke-width="2"/>
<line x1="414.2" y1="342.34" x2="418.4" y2="342.34" stroke="#000" stroke-width="2"/>
<text x="412.6" y="348.04" font-family='"Liberation Sans", sans-serif' font-size="22.3" font-weight="normal" text-anchor="end" fill="#000" >4</text>
<line x1="415.9" y1="323.85" x2="418.4" y2="323.85" stroke="#000" stroke-width="2"/>
<line x1="414.2" y1="305.36" x2="418.4" y2="305.36" stroke="#000" stroke-width="2"/>
<text x="412.6" y="311.06" font-family='"Liberation Sans", sans-serif' font-size="22.3" font-weight="normal" text-anchor="end" fill="#000" >6</text>
<line x1="415.9" y1="286.87" x2="418.4" y2="286.87" stroke="#000" stroke-width="2"/>
<line x1="414.2" y1="268.38" x2="418.4" y2="268.38" stroke="#000" stroke-width="2"/>
<text x="412.6" y="274.08" font-family='"Liberation Sans", sans-serif' font-size="22.3" font-weight="normal" text-anchor="end" fill="#000" >8</text>
<line x1="415.9" y1="249.89" x2="418.4" y2="249.89" stroke="#000" stroke-width="2"/>
<line x1="414.2" y1="231.4" x2="418.4" y2="231.4" stroke="#000" stroke-width="2"/>
<text x="412.6" y="237.1" font-family='"Liberation Sans", sans-serif' font-size="22.3" font-weight="normal" text-anchor="end" fill="#000" >10</text>
<line x1="418.4" y1="416.3" x2="418.4" y2="420.5" stroke="#000" stroke-width="2"/>
<text x="418.4" y="440.5" font-family='"Liberation Sans", sans-serif' font-size="22" font-weight="normal" text-anchor="middle" fill="#000" >0.0</text>
<line x1="443.57" y1="416.3" x2="443.57" y2="418.8" stroke="#000" stroke-width="2"/>
<line x1="468.74" y1="416.3" x2="468.74" y2="420.5" stroke="#000" stroke-width="2"/>
<text x="468.74" y="440.5" font-family='"Liberation Sans", sans-serif' font-size="22" font-weight="normal" text-anchor="middle" fill="#000" >0.1</text>
<line x1="493.91" y1="416.3" x2="493.91" y2="418.8" stroke="#000" stroke-width="2"/>
<line x1="519.08" y1="416.3" x2="519.08" y2="420.5" stroke="#000" stroke-width="2"/>
<text x="519.08" y="440.5" font-family='"Liberation Sans", sans-serif' font-size="22" font-weight="normal" text-anchor="middle" fill="#000" >0.2</text>
<line x1="544.25" y1="416.3" x2="544.25" y2="418.8" stroke="#000" stroke-width="2"/>
<line x1="569.42" y1="416.3" x2="569.42" y2="420.5" stroke="#000" stroke-width="2"/>
<text x="569.42" y="440.5" font-family='"Liberation Sans", sans-serif' font-size="22" font-weight="normal" text-anchor="middle" fill="#000" >0.3</text>
<line x1="594.59" y1="416.3" x2="594.59" y2="418.8" stroke="#000" stroke-width="2"/>
<line x1="619.76" y1="416.3" x2="619.76" y2="420.5" stroke="#000" stroke-width="2"/>
<text x="619.76" y="440.5" font-family='"Liberation Sans", sans-serif' font-size="22" font-weight="normal" text-anchor="middle" fill="#000" >0.4</text>
<line x1="644.93" y1="416.3" x2="644.93" y2="418.8" stroke="#000" stroke-width="2"/>
<line x1="670.1" y1="416.3" x2="670.1" y2="420.5" stroke="#000" stroke-width="2"/>
<text x="670.1" y="440.5" font-family='"Liberation Sans", sans-serif' font-size="22" font-weight="normal" text-anchor="middle" fill="#000" >0.5</text>
<text transform="translate(383.6,318.8) rotate(-90)" font-family='"Liberation Sans", sans-serif' font-size="26" text-anchor="middle">δz (meV)</text>
<text x="545.5" y="463" font-family='"Liberation Sans", sans-serif' font-size="24" font-weight="normal" text-anchor="middle" fill="#000" >Mn content x (%)</text>
<text x="1.8" y="241" font-family='"Liberation Sans", sans-serif' font-size="29.5" font-weight="bold" text-anchor="start" fill="#000" >c</text>
<g clip-path="url(#cc)">
<circle cx="162.8" cy="244.7" r="3.3" fill="#00efa1"/>
<circle cx="159.9" cy="246.34" r="3.3" fill="#00ef9c"/>
<circle cx="156.99" cy="247.98" r="3.3" fill="#00ef96"/>
<circle cx="154.09" cy="249.62" r="3.3" fill="#00ef90"/>
<circle cx="151.18" cy="251.26" r="3.3" fill="#00f08b"/>
<circle cx="148.28" cy="252.9" r="3.3" fill="#00f085"/>
<circle cx="145.37" cy="254.55" r="3.3" fill="#00ee60"/>
<circle cx="142.47" cy="256.19" r="3.3" fill="#00ea1b"/>
<circle cx="139.56" cy="257.83" r="3.3" fill="#14e800"/>
<circle cx="136.66" cy="259.47" r="3.3" fill="#2de800"/>
<circle cx="133.75" cy="261.11" r="3.3" fill="#2ee800"/>
<circle cx="130.85" cy="262.75" r="3.3" fill="#2ee800"/>
<circle cx="127.95" cy="264.39" r="3.3" fill="#2fe800"/>
<circle cx="125.04" cy="266.03" r="3.3" fill="#30e800"/>
<circle cx="122.14" cy="267.67" r="3.3" fill="#31e800"/>
<circle cx="119.23" cy="269.31" r="3.3" fill="#31e800"/>
<circle cx="116.33" cy="270.95" r="3.3" fill="#32e800"/>
<circle cx="113.42" cy="272.6" r="3.3" fill="#33e800"/>
<circle cx="110.52" cy="274.24" r="3.3" fill="#33e800"/>
<circle cx="107.61" cy="275.88" r="3.3" fill="#34e800"/>
<circle cx="104.71" cy="277.52" r="3.3" fill="#35e800"/>
<circle cx="101.8" cy="279.16" r="3.3" fill="#35e800"/>
<circle cx="98.9" cy="280.8" r="3.3" fill="#36e800"/>
<circle cx="139.2" cy="249.6" r="3.3" fill="#00ebff"/>
<circle cx="136.01" cy="251.28" r="3.3" fill="#00ebfb"/>
<circle cx="132.82" cy="252.95" r="3.3" fill="#00ebf7"/>
<circle cx="129.64" cy="254.62" r="3.3" fill="#00ebf3"/>
<circle cx="126.45" cy="256.3" r="3.3" fill="#00ecef"/>
<circle cx="123.26" cy="257.98" r="3.3" fill="#00eceb"/>
<circle cx="120.08" cy="259.65" r="3.3" fill="#00ece8"/>
<circle cx="116.89" cy="261.32" r="3.3" fill="#00ece4"/>
<circle cx="113.7" cy="263" r="3.3" fill="#00ece0"/>
<circle cx="97" cy="284" r="3.3" fill="#3ce800"/>
<circle cx="96.26" cy="287.31" r="3.3" fill="#48e800"/>
<circle cx="95.51" cy="290.62" r="3.3" fill="#54e800"/>
<circle cx="95.2" cy="293.98" r="3.3" fill="#60e800"/>
<circle cx="95.2" cy="297.37" r="3.3" fill="#6ce800"/>
<circle cx="95.2" cy="300.76" r="3.3" fill="#78e800"/>
<circle cx="95.2" cy="304.16" r="3.3" fill="#84e800"/>
<circle cx="95.2" cy="307.55" r="3.3" fill="#90e800"/>
<circle cx="95.2" cy="310.94" r="3.3" fill="#96e800"/>
<circle cx="95.2" cy="314.34" r="3.3" fill="#96e800"/>
<circle cx="95.2" cy="317.73" r="3.3" fill="#96e800"/>
<circle cx="95.2" cy="321.12" r="3.3" fill="#96e800"/>
<circle cx="95.2" cy="324.51" r="3.3" fill="#96e800"/>
<circle cx="95.2" cy="327.91" r="3.3" fill="#96e800"/>
<circle cx="95.2" cy="331.3" r="3.3" fill="#96e800"/>
<circle cx="95.2" cy="334.69" r="3.3" fill="#96e800"/>
<circle cx="95.2" cy="338.09" r="3.3" fill="#96e800"/>
<circle cx="95.2" cy="341.48" r="3.3" fill="#96e800"/>
<circle cx="95.2" cy="344.87" r="3.3" fill="#90e800"/>
<circle cx="95.2" cy="348.26" r="3.3" fill="#84e800"/>
<circle cx="95.2" cy="351.66" r="3.3" fill="#78e800"/>
<circle cx="95.2" cy="355.05" r="3.3" fill="#6ce800"/>
<circle cx="95.2" cy="358.44" r="3.3" fill="#60e800"/>
<circle cx="95.2" cy="361.84" r="3.3" fill="#54e800"/>
<circle cx="96.57" cy="364.93" r="3.3" fill="#48e800"/>
<circle cx="98" cy="368" r="3.3" fill="#3ce800"/>
<circle cx="88.6" cy="306" r="3.3" fill="#ffe000"/>
<circle cx="88.6" cy="309.38" r="3.3" fill="#ffe200"/>
<circle cx="88.6" cy="312.75" r="3.3" fill="#fee400"/>
<circle cx="88.6" cy="316.12" r="3.3" fill="#fae400"/>
<circle cx="88.6" cy="319.5" r="3.3" fill="#f7e400"/>
<circle cx="88.6" cy="322.88" r="3.3" fill="#f4e500"/>
<circle cx="88.6" cy="326.25" r="3.3" fill="#f0e500"/>
<circle cx="88.6" cy="329.62" r="3.3" fill="#ede500"/>
<circle cx="88.6" cy="333" r="3.3" fill="#eae500"/>
<circle cx="103" cy="370" r="3.3" fill="#00ece0"/>
<circle cx="106.01" cy="371.72" r="3.3" fill="#00eeb5"/>
<circle cx="109.01" cy="373.44" r="3.3" fill="#00f08a"/>
<circle cx="112.02" cy="375.15" r="3.3" fill="#00ee5e"/>
<circle cx="115.02" cy="376.87" r="3.3" fill="#00eb31"/>
<circle cx="118.03" cy="378.59" r="3.3" fill="#00e804"/>
<circle cx="121.04" cy="380.31" r="3.3" fill="#02e800"/>
<circle cx="124.04" cy="382.02" r="3.3" fill="#04e800"/>
<circle cx="127.05" cy="383.74" r="3.3" fill="#06e800"/>
<circle cx="130.05" cy="385.46" r="3.3" fill="#09e800"/>
<circle cx="133.06" cy="387.18" r="3.3" fill="#0be800"/>
<circle cx="136.06" cy="388.89" r="3.3" fill="#0de800"/>
<circle cx="139.07" cy="390.61" r="3.3" fill="#0de800"/>
<circle cx="142.08" cy="392.33" r="3.3" fill="#00e911"/>
<circle cx="145.08" cy="394.05" r="3.3" fill="#00ec3d"/>
<circle cx="148.09" cy="395.76" r="3.3" fill="#00ef6a"/>
<circle cx="151.09" cy="397.48" r="3.3" fill="#00ef96"/>
<circle cx="154.1" cy="399.2" r="3.3" fill="#00eec0"/>
<circle cx="168" cy="384.3" r="3.3" fill="#3ce800"/>
<circle cx="171.13" cy="383.03" r="3.3" fill="#5ae800"/>
<circle cx="174.26" cy="381.76" r="3.3" fill="#79e800"/>
<circle cx="177.4" cy="380.49" r="3.3" fill="#97e800"/>
<circle cx="180.53" cy="379.22" r="3.3" fill="#b6e800"/>
<circle cx="183.66" cy="377.95" r="3.3" fill="#d1e600"/>
<circle cx="186.82" cy="376.75" r="3.3" fill="#ece500"/>
<circle cx="190.06" cy="375.78" r="3.3" fill="#eee500"/>
<circle cx="193.3" cy="374.81" r="3.3" fill="#e5e500"/>
<circle cx="196.53" cy="373.84" r="3.3" fill="#dce600"/>
<circle cx="199.77" cy="372.87" r="3.3" fill="#d3e600"/>
<circle cx="203.01" cy="371.9" r="3.3" fill="#bfe700"/>
<circle cx="206.25" cy="370.96" r="3.3" fill="#9ce800"/>
<circle cx="209.59" cy="370.43" r="3.3" fill="#79e800"/>
<circle cx="212.93" cy="369.9" r="3.3" fill="#55e800"/>
<circle cx="216.27" cy="369.37" r="3.3" fill="#3be800"/>
<circle cx="219.61" cy="368.84" r="3.3" fill="#39e800"/>
<circle cx="222.95" cy="368.32" r="3.3" fill="#37e800"/>
<circle cx="226.28" cy="367.79" r="3.3" fill="#34e800"/>
<circle cx="229.62" cy="367.26" r="3.3" fill="#32e800"/>
<circle cx="232.96" cy="366.73" r="3.3" fill="#2fe800"/>
<circle cx="236.3" cy="366.2" r="3.3" fill="#2de800"/>
<circle cx="172" cy="398.4" r="3.3" fill="#5ae800"/>
<circle cx="175.24" cy="397.23" r="3.3" fill="#7be800"/>
<circle cx="178.48" cy="396.06" r="3.3" fill="#9de800"/>
<circle cx="181.72" cy="394.88" r="3.3" fill="#bde800"/>
<circle cx="184.96" cy="393.71" r="3.3" fill="#dbe600"/>
<circle cx="188.19" cy="392.54" r="3.3" fill="#f8e400"/>
<circle cx="191.43" cy="391.37" r="3.3" fill="#ffe000"/>
<circle cx="194.67" cy="390.19" r="3.3" fill="#ffe000"/>
<circle cx="197.91" cy="389.02" r="3.3" fill="#ffe000"/>
<circle cx="201.15" cy="387.85" r="3.3" fill="#ffe000"/>
<circle cx="204.39" cy="386.68" r="3.3" fill="#ffe000"/>
<circle cx="207.63" cy="385.51" r="3.3" fill="#fae400"/>
<circle cx="210.87" cy="384.33" r="3.3" fill="#c6e700"/>
<circle cx="214.11" cy="383.16" r="3.3" fill="#8ee800"/>
<circle cx="217.34" cy="381.99" r="3.3" fill="#53e800"/>
<circle cx="220.58" cy="380.82" r="3.3" fill="#3ae800"/>
<circle cx="223.82" cy="379.64" r="3.3" fill="#35e800"/>
<circle cx="227.06" cy="378.47" r="3.3" fill="#31e800"/>
<circle cx="230.3" cy="377.3" r="3.3" fill="#2de800"/>
<circle cx="235.2" cy="356" r="3.3" fill="#1ee800"/>
<circle cx="235.2" cy="352.64" r="3.3" fill="#18e800"/>
<circle cx="235.2" cy="349.28" r="3.3" fill="#12e800"/>
<circle cx="235.2" cy="345.92" r="3.3" fill="#0ce800"/>
<circle cx="235.2" cy="342.56" r="3.3" fill="#06e800"/>
<circle cx="235.2" cy="339.2" r="3.3" fill="#00e800"/>
<circle cx="235.2" cy="335.84" r="3.3" fill="#00e90d"/>
<circle cx="235.2" cy="332.48" r="3.3" fill="#00ea1a"/>
<circle cx="235.2" cy="329.12" r="3.3" fill="#00ea27"/>
<circle cx="235.2" cy="325.76" r="3.3" fill="#00eb34"/>
<circle cx="235.2" cy="322.4" r="3.3" fill="#00ec41"/>
<circle cx="235.2" cy="319.04" r="3.3" fill="#00ec47"/>
<circle cx="235.2" cy="315.68" r="3.3" fill="#00ed4e"/>
<circle cx="235.2" cy="312.32" r="3.3" fill="#00ed54"/>
<circle cx="235.2" cy="308.96" r="3.3" fill="#00ee5b"/>
<circle cx="235.2" cy="305.6" r="3.3" fill="#00ee61"/>
<circle cx="235.2" cy="302.24" r="3.3" fill="#00ee68"/>
<circle cx="235.2" cy="298.88" r="3.3" fill="#00ef6e"/>
<circle cx="235.2" cy="295.52" r="3.3" fill="#00ef75"/>
<circle cx="235.2" cy="292.16" r="3.3" fill="#00f07c"/>
<circle cx="235.2" cy="288.8" r="3.3" fill="#00f082"/>
<circle cx="242.3" cy="339.3" r="3.3" fill="#00ebff"/>
<circle cx="242.3" cy="335.9" r="3.3" fill="#00ebff"/>
<circle cx="242.3" cy="332.5" r="3.3" fill="#00ebff"/>
<circle cx="242.3" cy="329.1" r="3.3" fill="#00ebff"/>
<circle cx="242.3" cy="325.7" r="3.3" fill="#00ebff"/>
<circle cx="242.3" cy="322.3" r="3.3" fill="#00ebff"/>
<circle cx="242.3" cy="318.9" r="3.3" fill="#00ebff"/>
<circle cx="242.3" cy="315.5" r="3.3" fill="#00ebff"/>
<circle cx="242.3" cy="312.1" r="3.3" fill="#00ebff"/>
<circle cx="242.3" cy="308.7" r="3.3" fill="#00ebff"/>
<circle cx="231" cy="278" r="3.3" fill="#78e800"/>
<circle cx="229.97" cy="274.73" r="3.3" fill="#a5e800"/>
<circle cx="227.49" cy="272.48" r="3.3" fill="#d0e700"/>
<circle cx="224.74" cy="270.43" r="3.3" fill="#f8e400"/>
<circle cx="221.99" cy="268.38" r="3.3" fill="#dde600"/>
<circle cx="219.23" cy="266.33" r="3.3" fill="#a2e800"/>
<circle cx="216.48" cy="264.28" r="3.3" fill="#62e800"/>
<circle cx="213.73" cy="262.23" r="3.3" fill="#3de800"/>
<circle cx="210.98" cy="260.18" r="3.3" fill="#41e800"/>
<circle cx="208.23" cy="258.13" r="3.3" fill="#44e800"/>
<circle cx="205.47" cy="256.08" r="3.3" fill="#48e800"/>
<circle cx="202.72" cy="254.03" r="3.3" fill="#4be800"/>
<circle cx="199.97" cy="251.98" r="3.3" fill="#4ee800"/>
<circle cx="196.99" cy="250.27" r="3.3" fill="#52e800"/>
<circle cx="194.01" cy="248.56" r="3.3" fill="#55e800"/>
<circle cx="191.04" cy="246.86" r="3.3" fill="#59e800"/>
<circle cx="188.06" cy="245.15" r="3.3" fill="#77e800"/>
<circle cx="185.08" cy="243.44" r="3.3" fill="#a9e800"/>
<circle cx="182.11" cy="241.73" r="3.3" fill="#d6e600"/>
<circle cx="179.13" cy="240.02" r="3.3" fill="#eee500"/>
<circle cx="176.15" cy="238.32" r="3.3" fill="#dbe600"/>
<circle cx="173.18" cy="236.61" r="3.3" fill="#c7e700"/>
<circle cx="170.2" cy="234.9" r="3.3" fill="#b4e800"/>
<circle cx="232.7" cy="295.9" r="3.3" fill="#2de800"/>
<circle cx="230.22" cy="293.67" r="3.3" fill="#2de800"/>
<circle cx="227.73" cy="291.45" r="3.3" fill="#2de800"/>
<circle cx="225.25" cy="289.22" r="3.3" fill="#2de800"/>
<circle cx="222.77" cy="286.99" r="3.3" fill="#2de800"/>
<circle cx="220.29" cy="284.77" r="3.3" fill="#2de800"/>
<circle cx="217.8" cy="282.54" r="3.3" fill="#2de800"/>
<circle cx="215.32" cy="280.31" r="3.3" fill="#2de800"/>
<circle cx="212.84" cy="278.09" r="3.3" fill="#2de800"/>
<circle cx="210.36" cy="275.86" r="3.3" fill="#2de800"/>
<circle cx="207.87" cy="273.63" r="3.3" fill="#2de800"/>
<circle cx="205.39" cy="271.41" r="3.3" fill="#2de800"/>
<circle cx="202.84" cy="269.27" r="3.3" fill="#2de800"/>
<circle cx="200.09" cy="267.37" r="3.3" fill="#2de800"/>
<circle cx="197.35" cy="265.47" r="3.3" fill="#2de800"/>
<circle cx="194.61" cy="263.57" r="3.3" fill="#2de800"/>
<circle cx="191.87" cy="261.67" r="3.3" fill="#2de800"/>
<circle cx="189.13" cy="259.77" r="3.3" fill="#2de800"/>
<circle cx="186.39" cy="257.87" r="3.3" fill="#2de800"/>
<circle cx="183.57" cy="256.1" r="3.3" fill="#2de800"/>
<circle cx="180.62" cy="254.54" r="3.3" fill="#2de800"/>
<circle cx="177.68" cy="252.98" r="3.3" fill="#2de800"/>
<circle cx="174.73" cy="251.41" r="3.3" fill="#2de800"/>
<circle cx="171.79" cy="249.85" r="3.3" fill="#2de800"/>
<circle cx="168.84" cy="248.29" r="3.3" fill="#2de800"/>
<circle cx="165.89" cy="246.73" r="3.3" fill="#2de800"/>
<circle cx="162.95" cy="245.16" r="3.3" fill="#2de800"/>
<circle cx="160" cy="243.6" r="3.3" fill="#2de800"/>
<circle cx="220" cy="352.6" r="3.3" fill="#17e800"/>
<circle cx="220" cy="349.27" r="3.3" fill="#04e800"/>
<circle cx="220" cy="345.93" r="3.3" fill="#00ea23"/>
<circle cx="220" cy="342.6" r="3.3" fill="#00ed4d"/>
<circle cx="220" cy="339.27" r="3.3" fill="#00ef75"/>
<circle cx="220" cy="335.93" r="3.3" fill="#00ef99"/>
<circle cx="220" cy="332.6" r="3.3" fill="#00eeb6"/>
<circle cx="220" cy="329.27" r="3.3" fill="#00edcd"/>
<circle cx="220" cy="325.93" r="3.3" fill="#00ecdb"/>
<circle cx="220" cy="322.6" r="3.3" fill="#00ece0"/>
<circle cx="220" cy="319.27" r="3.3" fill="#00ecdb"/>
<circle cx="220" cy="315.93" r="3.3" fill="#00edcd"/>
<circle cx="220" cy="312.6" r="3.3" fill="#00eeb6"/>
<circle cx="220" cy="309.27" r="3.3" fill="#00ef99"/>
<circle cx="220" cy="305.93" r="3.3" fill="#00ef75"/>
<circle cx="220" cy="302.6" r="3.3" fill="#00ed4d"/>
<circle cx="220" cy="299.27" r="3.3" fill="#00ea23"/>
<circle cx="220" cy="295.93" r="3.3" fill="#04e800"/>
<circle cx="220" cy="292.6" r="3.3" fill="#17e800"/>
<circle cx="218.98" cy="290.83" r="3.3" fill="#25e800"/>
<circle cx="216.09" cy="289.17" r="3.3" fill="#38e800"/>
<circle cx="213.21" cy="287.5" r="3.3" fill="#5ce800"/>
<circle cx="210.32" cy="285.83" r="3.3" fill="#83e800"/>
<circle cx="207.43" cy="284.17" r="3.3" fill="#a8e800"/>
<circle cx="204.55" cy="282.5" r="3.3" fill="#c8e700"/>
<circle cx="201.66" cy="280.83" r="3.3" fill="#e1e600"/>
<circle cx="198.77" cy="279.17" r="3.3" fill="#f4e500"/>
<circle cx="195.89" cy="277.5" r="3.3" fill="#ffe300"/>
<circle cx="193" cy="275.83" r="3.3" fill="#ffe000"/>
<circle cx="190.11" cy="274.17" r="3.3" fill="#ffe300"/>
<circle cx="187.23" cy="272.5" r="3.3" fill="#f4e500"/>
<circle cx="184.34" cy="270.83" r="3.3" fill="#e1e600"/>
<circle cx="181.45" cy="269.17" r="3.3" fill="#c8e700"/>
<circle cx="178.57" cy="267.5" r="3.3" fill="#a8e800"/>
<circle cx="175.68" cy="265.83" r="3.3" fill="#83e800"/>
<circle cx="172.79" cy="264.17" r="3.3" fill="#5ce800"/>
<circle cx="169.91" cy="262.5" r="3.3" fill="#38e800"/>
<circle cx="167.02" cy="260.83" r="3.3" fill="#25e800"/>
<circle cx="164.98" cy="260.83" r="3.3" fill="#17e800"/>
<circle cx="162.09" cy="262.5" r="3.3" fill="#04e800"/>
<circle cx="159.21" cy="264.17" r="3.3" fill="#00ea23"/>
<circle cx="156.32" cy="265.83" r="3.3" fill="#00ed4d"/>
<circle cx="153.43" cy="267.5" r="3.3" fill="#00ef75"/>
<circle cx="150.55" cy="269.17" r="3.3" fill="#00ef99"/>
<circle cx="147.66" cy="270.83" r="3.3" fill="#00eeb6"/>
<circle cx="144.77" cy="272.5" r="3.3" fill="#00edcd"/>
<circle cx="141.89" cy="274.17" r="3.3" fill="#00ecdb"/>
<circle cx="139" cy="275.83" r="3.3" fill="#00ece0"/>
<circle cx="136.11" cy="277.5" r="3.3" fill="#00ecdb"/>
<circle cx="133.23" cy="279.17" r="3.3" fill="#00edcd"/>
<circle cx="130.34" cy="280.83" r="3.3" fill="#00eeb6"/>
<circle cx="127.45" cy="282.5" r="3.3" fill="#00ef99"/>
<circle cx="124.57" cy="284.17" r="3.3" fill="#00ef75"/>
<circle cx="121.68" cy="285.83" r="3.3" fill="#00ed4d"/>
<circle cx="118.79" cy="287.5" r="3.3" fill="#00ea23"/>
<circle cx="115.91" cy="289.17" r="3.3" fill="#04e800"/>
<circle cx="113.02" cy="290.83" r="3.3" fill="#17e800"/>
<circle cx="112" cy="292.6" r="3.3" fill="#25e800"/>
<circle cx="112" cy="295.93" r="3.3" fill="#38e800"/>
<circle cx="112" cy="299.27" r="3.3" fill="#5ce800"/>
<circle cx="112" cy="302.6" r="3.3" fill="#83e800"/>
<circle cx="112" cy="305.93" r="3.3" fill="#a8e800"/>
<circle cx="112" cy="309.27" r="3.3" fill="#c8e700"/>
<circle cx="112" cy="312.6" r="3.3" fill="#e1e600"/>
<circle cx="112" cy="315.93" r="3.3" fill="#f4e500"/>
<circle cx="112" cy="319.27" r="3.3" fill="#ffe300"/>
<circle cx="112" cy="322.6" r="3.3" fill="#ffe000"/>
<circle cx="112" cy="325.93" r="3.3" fill="#ffe300"/>
<circle cx="112" cy="329.27" r="3.3" fill="#f4e500"/>
<circle cx="112" cy="332.6" r="3.3" fill="#e1e600"/>
<circle cx="112" cy="335.93" r="3.3" fill="#c8e700"/>
<circle cx="112" cy="339.27" r="3.3" fill="#a8e800"/>
<circle cx="112" cy="342.6" r="3.3" fill="#83e800"/>
<circle cx="112" cy="345.93" r="3.3" fill="#5ce800"/>
<circle cx="112" cy="349.27" r="3.3" fill="#38e800"/>
<circle cx="112" cy="352.6" r="3.3" fill="#25e800"/>
<circle cx="113.02" cy="354.37" r="3.3" fill="#17e800"/>
<circle cx="115.91" cy="356.03" r="3.3" fill="#04e800"/>
<circle cx="118.79" cy="357.7" r="3.3" fill="#00ea23"/>
<circle cx="121.68" cy="359.37" r="3.3" fill="#00ed4d"/>
<circle cx="124.57" cy="361.03" r="3.3" fill="#00ef75"/>
<circle cx="127.45" cy="362.7" r="3.3" fill="#00ef99"/>
<circle cx="130.34" cy="364.37" r="3.3" fill="#00eeb6"/>
<circle cx="133.23" cy="366.03" r="3.3" fill="#00edcd"/>
<circle cx="136.11" cy="367.7" r="3.3" fill="#00ecdb"/>
<circle cx="139" cy="369.37" r="3.3" fill="#00ece0"/>
<circle cx="141.89" cy="371.03" r="3.3" fill="#00ecdb"/>
<circle cx="144.77" cy="372.7" r="3.3" fill="#00edcd"/>
<circle cx="147.66" cy="374.37" r="3.3" fill="#00eeb6"/>
<circle cx="150.55" cy="376.03" r="3.3" fill="#00ef99"/>
<circle cx="153.43" cy="377.7" r="3.3" fill="#00ef75"/>
<circle cx="156.32" cy="379.37" r="3.3" fill="#00ed4d"/>
<circle cx="159.21" cy="381.03" r="3.3" fill="#00ea23"/>
<circle cx="162.09" cy="382.7" r="3.3" fill="#04e800"/>
<circle cx="164.98" cy="384.37" r="3.3" fill="#17e800"/>
<circle cx="167.02" cy="384.37" r="3.3" fill="#25e800"/>
<circle cx="169.91" cy="382.7" r="3.3" fill="#38e800"/>
<circle cx="172.79" cy="381.03" r="3.3" fill="#5ce800"/>
<circle cx="175.68" cy="379.37" r="3.3" fill="#83e800"/>
<circle cx="178.57" cy="377.7" r="3.3" fill="#a8e800"/>
<circle cx="181.45" cy="376.03" r="3.3" fill="#c8e700"/>
<circle cx="184.34" cy="374.37" r="3.3" fill="#e1e600"/>
<circle cx="187.23" cy="372.7" r="3.3" fill="#f4e500"/>
<circle cx="190.11" cy="371.03" r="3.3" fill="#ffe300"/>
<circle cx="193" cy="369.37" r="3.3" fill="#ffe000"/>
<circle cx="195.89" cy="367.7" r="3.3" fill="#ffe300"/>
<circle cx="198.77" cy="366.03" r="3.3" fill="#f4e500"/>
<circle cx="201.66" cy="364.37" r="3.3" fill="#e1e600"/>
<circle cx="204.55" cy="362.7" r="3.3" fill="#c8e700"/>
<circle cx="207.43" cy="361.03" r="3.3" fill="#a8e800"/>
<circle cx="210.32" cy="359.37" r="3.3" fill="#83e800"/>
<circle cx="213.21" cy="357.7" r="3.3" fill="#5ce800"/>
<circle cx="216.09" cy="356.03" r="3.3" fill="#38e800"/>
<circle cx="218.98" cy="354.37" r="3.3" fill="#25e800"/>
<circle cx="213.5" cy="336.6" r="3.3" fill="#0ae800"/>
<circle cx="213.5" cy="333.1" r="3.3" fill="#06e800"/>
<circle cx="213.5" cy="329.6" r="3.3" fill="#03e800"/>
<circle cx="213.5" cy="326.1" r="3.3" fill="#01e800"/>
<circle cx="213.5" cy="322.6" r="3.3" fill="#00e800"/>
<circle cx="213.5" cy="319.1" r="3.3" fill="#01e800"/>
<circle cx="213.5" cy="315.6" r="3.3" fill="#03e800"/>
<circle cx="213.5" cy="312.1" r="3.3" fill="#06e800"/>
<circle cx="213.5" cy="308.6" r="3.3" fill="#0ae800"/>
<circle cx="201.87" cy="288.46" r="3.3" fill="#32e800"/>
<circle cx="198.84" cy="286.71" r="3.3" fill="#36e800"/>
<circle cx="195.81" cy="284.96" r="3.3" fill="#39e800"/>
<circle cx="192.78" cy="283.21" r="3.3" fill="#3be800"/>
<circle cx="189.75" cy="281.46" r="3.3" fill="#3ce800"/>
<circle cx="186.72" cy="279.71" r="3.3" fill="#3be800"/>
<circle cx="183.69" cy="277.96" r="3.3" fill="#39e800"/>
<circle cx="180.66" cy="276.21" r="3.3" fill="#36e800"/>
<circle cx="177.63" cy="274.46" r="3.3" fill="#32e800"/>
<circle cx="154.37" cy="274.46" r="3.3" fill="#0ae800"/>
<circle cx="151.34" cy="276.21" r="3.3" fill="#06e800"/>
<circle cx="148.31" cy="277.96" r="3.3" fill="#03e800"/>
<circle cx="145.28" cy="279.71" r="3.3" fill="#01e800"/>
<circle cx="142.25" cy="281.46" r="3.3" fill="#00e800"/>
<circle cx="139.22" cy="283.21" r="3.3" fill="#01e800"/>
<circle cx="136.19" cy="284.96" r="3.3" fill="#03e800"/>
<circle cx="133.16" cy="286.71" r="3.3" fill="#06e800"/>
<circle cx="130.13" cy="288.46" r="3.3" fill="#0ae800"/>
<circle cx="118.5" cy="308.6" r="3.3" fill="#32e800"/>
<circle cx="118.5" cy="312.1" r="3.3" fill="#36e800"/>
<circle cx="118.5" cy="315.6" r="3.3" fill="#39e800"/>
<circle cx="118.5" cy="319.1" r="3.3" fill="#3be800"/>
<circle cx="118.5" cy="322.6" r="3.3" fill="#3ce800"/>
<circle cx="118.5" cy="326.1" r="3.3" fill="#3be800"/>
<circle cx="118.5" cy="329.6" r="3.3" fill="#39e800"/>
<circle cx="118.5" cy="333.1" r="3.3" fill="#36e800"/>
<circle cx="118.5" cy="336.6" r="3.3" fill="#32e800"/>
<circle cx="130.13" cy="356.74" r="3.3" fill="#0ae800"/>
<circle cx="133.16" cy="358.49" r="3.3" fill="#06e800"/>
<circle cx="136.19" cy="360.24" r="3.3" fill="#03e800"/>
<circle cx="139.22" cy="361.99" r="3.3" fill="#01e800"/>
<circle cx="142.25" cy="363.74" r="3.3" fill="#00e800"/>
<circle cx="145.28" cy="365.49" r="3.3" fill="#01e800"/>
<circle cx="148.31" cy="367.24" r="3.3" fill="#03e800"/>
<circle cx="151.34" cy="368.99" r="3.3" fill="#06e800"/>
<circle cx="154.37" cy="370.74" r="3.3" fill="#0ae800"/>
<circle cx="177.63" cy="370.74" r="3.3" fill="#32e800"/>
<circle cx="180.66" cy="368.99" r="3.3" fill="#36e800"/>
<circle cx="183.69" cy="367.24" r="3.3" fill="#39e800"/>
<circle cx="186.72" cy="365.49" r="3.3" fill="#3be800"/>
<circle cx="189.75" cy="363.74" r="3.3" fill="#3ce800"/>
<circle cx="192.78" cy="361.99" r="3.3" fill="#3be800"/>
<circle cx="195.81" cy="360.24" r="3.3" fill="#39e800"/>
<circle cx="198.84" cy="358.49" r="3.3" fill="#36e800"/>
<circle cx="201.87" cy="356.74" r="3.3" fill="#32e800"/>
<circle cx="200.5" cy="322.6" r="3.3" fill="#00e800"/>
<circle cx="200.37" cy="319.59" r="3.3" fill="#01e800"/>
<circle cx="199.98" cy="316.61" r="3.3" fill="#04e800"/>
<circle cx="199.32" cy="313.67" r="3.3" fill="#09e800"/>
<circle cx="198.42" cy="310.8" r="3.3" fill="#0fe800"/>
<circle cx="197.27" cy="308.02" r="3.3" fill="#16e800"/>
<circle cx="195.88" cy="305.35" r="3.3" fill="#1ee800"/>
<circle cx="194.26" cy="302.81" r="3.3" fill="#26e800"/>
<circle cx="192.43" cy="300.42" r="3.3" fill="#2de800"/>
<circle cx="190.4" cy="298.2" r="3.3" fill="#33e800"/>
<circle cx="188.18" cy="296.17" r="3.3" fill="#38e800"/>
<circle cx="185.79" cy="294.34" r="3.3" fill="#3be800"/>
<circle cx="183.25" cy="292.72" r="3.3" fill="#3ce800"/>
<circle cx="180.58" cy="291.33" r="3.3" fill="#3be800"/>
<circle cx="177.8" cy="290.18" r="3.3" fill="#38e800"/>
<circle cx="174.93" cy="289.28" r="3.3" fill="#33e800"/>
<circle cx="171.99" cy="288.62" r="3.3" fill="#2de800"/>
<circle cx="169.01" cy="288.23" r="3.3" fill="#26e800"/>
<circle cx="166" cy="288.1" r="3.3" fill="#1ee800"/>
<circle cx="162.99" cy="288.23" r="3.3" fill="#16e800"/>
<circle cx="160.01" cy="288.62" r="3.3" fill="#0fe800"/>
<circle cx="157.07" cy="289.28" r="3.3" fill="#09e800"/>
<circle cx="154.2" cy="290.18" r="3.3" fill="#04e800"/>
<circle cx="151.42" cy="291.33" r="3.3" fill="#01e800"/>
<circle cx="148.75" cy="292.72" r="3.3" fill="#00e800"/>
<circle cx="146.21" cy="294.34" r="3.3" fill="#01e800"/>
<circle cx="143.82" cy="296.17" r="3.3" fill="#04e800"/>
<circle cx="141.6" cy="298.2" r="3.3" fill="#09e800"/>
<circle cx="139.57" cy="300.42" r="3.3" fill="#0fe800"/>
<circle cx="137.74" cy="302.81" r="3.3" fill="#16e800"/>
<circle cx="136.12" cy="305.35" r="3.3" fill="#1ee800"/>
<circle cx="134.73" cy="308.02" r="3.3" fill="#26e800"/>
<circle cx="133.58" cy="310.8" r="3.3" fill="#2de800"/>
<circle cx="132.68" cy="313.67" r="3.3" fill="#33e800"/>
<circle cx="132.02" cy="316.61" r="3.3" fill="#38e800"/>
<circle cx="131.63" cy="319.59" r="3.3" fill="#3be800"/>
<circle cx="131.5" cy="322.6" r="3.3" fill="#3ce800"/>
<circle cx="131.63" cy="325.61" r="3.3" fill="#3be800"/>
<circle cx="132.02" cy="328.59" r="3.3" fill="#38e800"/>
<circle cx="132.68" cy="331.53" r="3.3" fill="#33e800"/>
<circle cx="133.58" cy="334.4" r="3.3" fill="#2de800"/>
<circle cx="134.73" cy="337.18" r="3.3" fill="#26e800"/>
<circle cx="136.12" cy="339.85" r="3.3" fill="#1ee800"/>
<circle cx="137.74" cy="342.39" r="3.3" fill="#16e800"/>
<circle cx="139.57" cy="344.78" r="3.3" fill="#0fe800"/>
<circle cx="141.6" cy="347" r="3.3" fill="#09e800"/>
<circle cx="143.82" cy="349.03" r="3.3" fill="#04e800"/>
<circle cx="146.21" cy="350.86" r="3.3" fill="#01e800"/>
<circle cx="148.75" cy="352.48" r="3.3" fill="#00e800"/>
<circle cx="151.42" cy="353.87" r="3.3" fill="#01e800"/>
<circle cx="154.2" cy="355.02" r="3.3" fill="#04e800"/>
<circle cx="157.07" cy="355.92" r="3.3" fill="#09e800"/>
<circle cx="160.01" cy="356.58" r="3.3" fill="#0fe800"/>
<circle cx="162.99" cy="356.97" r="3.3" fill="#16e800"/>
<circle cx="166" cy="357.1" r="3.3" fill="#1ee800"/>
<circle cx="169.01" cy="356.97" r="3.3" fill="#26e800"/>
<circle cx="171.99" cy="356.58" r="3.3" fill="#2de800"/>
<circle cx="174.93" cy="355.92" r="3.3" fill="#33e800"/>
<circle cx="177.8" cy="355.02" r="3.3" fill="#38e800"/>
<circle cx="180.58" cy="353.87" r="3.3" fill="#3be800"/>
<circle cx="183.25" cy="352.48" r="3.3" fill="#3ce800"/>
<circle cx="185.79" cy="350.86" r="3.3" fill="#3be800"/>
<circle cx="188.18" cy="349.03" r="3.3" fill="#38e800"/>
<circle cx="190.4" cy="347" r="3.3" fill="#33e800"/>
<circle cx="192.43" cy="344.78" r="3.3" fill="#2de800"/>
<circle cx="194.26" cy="342.39" r="3.3" fill="#26e800"/>
<circle cx="195.88" cy="339.85" r="3.3" fill="#1ee800"/>
<circle cx="197.27" cy="337.18" r="3.3" fill="#16e800"/>
<circle cx="198.42" cy="334.4" r="3.3" fill="#0fe800"/>
<circle cx="199.32" cy="331.53" r="3.3" fill="#09e800"/>
<circle cx="199.98" cy="328.59" r="3.3" fill="#04e800"/>
<circle cx="200.37" cy="325.61" r="3.3" fill="#01e800"/>
<circle cx="205" cy="322.6" r="3.3" fill="#00e800"/>
<circle cx="204.88" cy="319.58" r="3.3" fill="#01e800"/>
<circle cx="204.53" cy="316.57" r="3.3" fill="#03e800"/>
<circle cx="203.95" cy="313.61" r="3.3" fill="#07e800"/>
<circle cx="203.14" cy="310.69" r="3.3" fill="#0ce800"/>
<circle cx="202.1" cy="307.85" r="3.3" fill="#12e800"/>
<circle cx="200.85" cy="305.1" r="3.3" fill="#19e800"/>
<circle cx="199.39" cy="302.45" r="3.3" fill="#20e800"/>
<circle cx="197.73" cy="299.92" r="3.3" fill="#27e800"/>
<circle cx="195.88" cy="297.53" r="3.3" fill="#2de800"/>
<circle cx="193.84" cy="295.29" r="3.3" fill="#33e800"/>
<circle cx="191.64" cy="293.22" r="3.3" fill="#37e800"/>
<circle cx="189.29" cy="291.32" r="3.3" fill="#3ae800"/>
<circle cx="186.79" cy="289.61" r="3.3" fill="#3ce800"/>
<circle cx="184.18" cy="288.09" r="3.3" fill="#3ce800"/>
<circle cx="181.45" cy="286.79" r="3.3" fill="#3ae800"/>
<circle cx="178.63" cy="285.7" r="3.3" fill="#37e800"/>
<circle cx="175.73" cy="284.83" r="3.3" fill="#33e800"/>
<circle cx="172.77" cy="284.19" r="3.3" fill="#2de800"/>
<circle cx="169.78" cy="283.78" r="3.3" fill="#27e800"/>
<circle cx="166.76" cy="283.61" r="3.3" fill="#20e800"/>
<circle cx="163.73" cy="283.67" r="3.3" fill="#19e800"/>
<circle cx="160.72" cy="283.96" r="3.3" fill="#12e800"/>
<circle cx="157.74" cy="284.48" r="3.3" fill="#0ce800"/>
<circle cx="154.81" cy="285.24" r="3.3" fill="#07e800"/>
<circle cx="151.95" cy="286.22" r="3.3" fill="#03e800"/>
<circle cx="149.18" cy="287.42" r="3.3" fill="#01e800"/>
<circle cx="146.5" cy="288.83" r="3.3" fill="#00e800"/>
<circle cx="143.94" cy="290.44" r="3.3" fill="#01e800"/>
<circle cx="141.52" cy="292.24" r="3.3" fill="#03e800"/>
<circle cx="139.24" cy="294.23" r="3.3" fill="#07e800"/>
<circle cx="137.12" cy="296.39" r="3.3" fill="#0ce800"/>
<circle cx="135.17" cy="298.71" r="3.3" fill="#12e800"/>
<circle cx="133.42" cy="301.17" r="3.3" fill="#19e800"/>
<circle cx="131.85" cy="303.76" r="3.3" fill="#20e800"/>
<circle cx="130.5" cy="306.46" r="3.3" fill="#27e800"/>
<circle cx="129.35" cy="309.26" r="3.3" fill="#2de800"/>
<circle cx="128.43" cy="312.14" r="3.3" fill="#33e800"/>
<circle cx="127.73" cy="315.08" r="3.3" fill="#37e800"/>
<circle cx="127.26" cy="318.07" r="3.3" fill="#3ae800"/>
<circle cx="127.03" cy="321.09" r="3.3" fill="#3ce800"/>
<circle cx="127.03" cy="324.11" r="3.3" fill="#3ce800"/>
<circle cx="127.26" cy="327.13" r="3.3" fill="#3ae800"/>
<circle cx="127.73" cy="330.12" r="3.3" fill="#37e800"/>
<circle cx="128.43" cy="333.06" r="3.3" fill="#33e800"/>
<circle cx="129.35" cy="335.94" r="3.3" fill="#2de800"/>
<circle cx="130.5" cy="338.74" r="3.3" fill="#27e800"/>
<circle cx="131.85" cy="341.44" r="3.3" fill="#20e800"/>
<circle cx="133.42" cy="344.03" r="3.3" fill="#19e800"/>
<circle cx="135.17" cy="346.49" r="3.3" fill="#12e800"/>
<circle cx="137.12" cy="348.81" r="3.3" fill="#0ce800"/>
<circle cx="139.24" cy="350.97" r="3.3" fill="#07e800"/>
<circle cx="141.52" cy="352.96" r="3.3" fill="#03e800"/>
<circle cx="143.94" cy="354.76" r="3.3" fill="#01e800"/>
<circle cx="146.5" cy="356.37" r="3.3" fill="#00e800"/>
<circle cx="149.18" cy="357.78" r="3.3" fill="#01e800"/>
<circle cx="151.95" cy="358.98" r="3.3" fill="#03e800"/>
<circle cx="154.81" cy="359.96" r="3.3" fill="#07e800"/>
<circle cx="157.74" cy="360.72" r="3.3" fill="#0ce800"/>
<circle cx="160.72" cy="361.24" r="3.3" fill="#12e800"/>
<circle cx="163.73" cy="361.53" r="3.3" fill="#19e800"/>
<circle cx="166.76" cy="361.59" r="3.3" fill="#20e800"/>
<circle cx="169.78" cy="361.42" r="3.3" fill="#27e800"/>
<circle cx="172.77" cy="361.01" r="3.3" fill="#2de800"/>
<circle cx="175.73" cy="360.37" r="3.3" fill="#33e800"/>
<circle cx="178.63" cy="359.5" r="3.3" fill="#37e800"/>
<circle cx="181.45" cy="358.41" r="3.3" fill="#3ae800"/>
<circle cx="184.18" cy="357.11" r="3.3" fill="#3ce800"/>
<circle cx="186.79" cy="355.59" r="3.3" fill="#3ce800"/>
<circle cx="189.29" cy="353.88" r="3.3" fill="#3ae800"/>
<circle cx="191.64" cy="351.98" r="3.3" fill="#37e800"/>
<circle cx="193.84" cy="349.91" r="3.3" fill="#33e800"/>
<circle cx="195.88" cy="347.67" r="3.3" fill="#2de800"/>
<circle cx="197.73" cy="345.28" r="3.3" fill="#27e800"/>
<circle cx="199.39" cy="342.75" r="3.3" fill="#20e800"/>
<circle cx="200.85" cy="340.1" r="3.3" fill="#19e800"/>
<circle cx="202.1" cy="337.35" r="3.3" fill="#12e800"/>
<circle cx="203.14" cy="334.51" r="3.3" fill="#0ce800"/>
<circle cx="203.95" cy="331.59" r="3.3" fill="#07e800"/>
<circle cx="204.53" cy="328.63" r="3.3" fill="#03e800"/>
<circle cx="204.88" cy="325.62" r="3.3" fill="#01e800"/>
<circle cx="209.5" cy="322.6" r="3.3" fill="#00e800"/>
<circle cx="209.4" cy="319.6" r="3.3" fill="#01e800"/>
<circle cx="209.09" cy="316.61" r="3.3" fill="#03e800"/>
<circle cx="208.57" cy="313.65" r="3.3" fill="#06e800"/>
<circle cx="207.85" cy="310.74" r="3.3" fill="#0ae800"/>
<circle cx="206.93" cy="307.88" r="3.3" fill="#0fe800"/>
<circle cx="205.82" cy="305.09" r="3.3" fill="#14e800"/>
<circle cx="204.52" cy="302.38" r="3.3" fill="#1ae800"/>
<circle cx="203.03" cy="299.78" r="3.3" fill="#21e800"/>
<circle cx="201.37" cy="297.27" r="3.3" fill="#27e800"/>
<circle cx="199.54" cy="294.9" r="3.3" fill="#2ce800"/>
<circle cx="197.55" cy="292.65" r="3.3" fill="#32e800"/>
<circle cx="195.4" cy="290.54" r="3.3" fill="#36e800"/>
<circle cx="193.12" cy="288.59" r="3.3" fill="#39e800"/>
<circle cx="190.71" cy="286.8" r="3.3" fill="#3be800"/>
<circle cx="188.18" cy="285.18" r="3.3" fill="#3ce800"/>
<circle cx="185.55" cy="283.74" r="3.3" fill="#3ce800"/>
<circle cx="182.82" cy="282.48" r="3.3" fill="#3ae800"/>
<circle cx="180.01" cy="281.42" r="3.3" fill="#37e800"/>
<circle cx="177.14" cy="280.55" r="3.3" fill="#33e800"/>
<circle cx="174.21" cy="279.88" r="3.3" fill="#2ee800"/>
<circle cx="171.24" cy="279.42" r="3.3" fill="#29e800"/>
<circle cx="168.25" cy="279.16" r="3.3" fill="#23e800"/>
<circle cx="165.25" cy="279.11" r="3.3" fill="#1ce800"/>
<circle cx="162.25" cy="279.26" r="3.3" fill="#16e800"/>
<circle cx="159.27" cy="279.62" r="3.3" fill="#11e800"/>
<circle cx="156.32" cy="280.19" r="3.3" fill="#0be800"/>
<circle cx="153.42" cy="280.96" r="3.3" fill="#07e800"/>
<circle cx="150.57" cy="281.93" r="3.3" fill="#03e800"/>
<circle cx="147.81" cy="283.09" r="3.3" fill="#01e800"/>
<circle cx="145.12" cy="284.44" r="3.3" fill="#00e800"/>
<circle cx="142.54" cy="285.97" r="3.3" fill="#00e800"/>
<circle cx="140.07" cy="287.67" r="3.3" fill="#02e800"/>
<circle cx="137.72" cy="289.55" r="3.3" fill="#04e800"/>
<circle cx="135.51" cy="291.58" r="3.3" fill="#08e800"/>
<circle cx="133.44" cy="293.75" r="3.3" fill="#0de800"/>
<circle cx="131.53" cy="296.07" r="3.3" fill="#12e800"/>
<circle cx="129.78" cy="298.51" r="3.3" fill="#18e800"/>
<circle cx="128.2" cy="301.07" r="3.3" fill="#1fe800"/>
<circle cx="126.81" cy="303.73" r="3.3" fill="#25e800"/>
<circle cx="125.6" cy="306.47" r="3.3" fill="#2be800"/>
<circle cx="124.58" cy="309.3" r="3.3" fill="#30e800"/>
<circle cx="123.76" cy="312.19" r="3.3" fill="#34e800"/>
<circle cx="123.15" cy="315.13" r="3.3" fill="#38e800"/>
<circle cx="122.73" cy="318.1" r="3.3" fill="#3be800"/>
<circle cx="122.53" cy="321.1" r="3.3" fill="#3ce800"/>
<circle cx="122.53" cy="324.1" r="3.3" fill="#3ce800"/>
<circle cx="122.73" cy="327.1" r="3.3" fill="#3be800"/>
<circle cx="123.15" cy="330.07" r="3.3" fill="#38e800"/>
<circle cx="123.76" cy="333.01" r="3.3" fill="#34e800"/>
<circle cx="124.58" cy="335.9" r="3.3" fill="#30e800"/>
<circle cx="125.6" cy="338.73" r="3.3" fill="#2be800"/>
<circle cx="126.81" cy="341.47" r="3.3" fill="#25e800"/>
<circle cx="128.2" cy="344.13" r="3.3" fill="#1fe800"/>
<circle cx="129.78" cy="346.69" r="3.3" fill="#18e800"/>
<circle cx="131.53" cy="349.13" r="3.3" fill="#12e800"/>
<circle cx="133.44" cy="351.45" r="3.3" fill="#0de800"/>
<circle cx="135.51" cy="353.62" r="3.3" fill="#08e800"/>
<circle cx="137.72" cy="355.65" r="3.3" fill="#04e800"/>
<circle cx="140.07" cy="357.53" r="3.3" fill="#02e800"/>
<circle cx="142.54" cy="359.23" r="3.3" fill="#00e800"/>
<circle cx="145.12" cy="360.76" r="3.3" fill="#00e800"/>
<circle cx="147.81" cy="362.11" r="3.3" fill="#01e800"/>
<circle cx="150.57" cy="363.27" r="3.3" fill="#03e800"/>
<circle cx="153.42" cy="364.24" r="3.3" fill="#07e800"/>
<circle cx="156.32" cy="365.01" r="3.3" fill="#0be800"/>
<circle cx="159.27" cy="365.58" r="3.3" fill="#11e800"/>
<circle cx="162.25" cy="365.94" r="3.3" fill="#16e800"/>
<circle cx="165.25" cy="366.09" r="3.3" fill="#1ce800"/>
<circle cx="168.25" cy="366.04" r="3.3" fill="#23e800"/>
<circle cx="171.24" cy="365.78" r="3.3" fill="#29e800"/>
<circle cx="174.21" cy="365.32" r="3.3" fill="#2ee800"/>
<circle cx="177.14" cy="364.65" r="3.3" fill="#33e800"/>
<circle cx="180.01" cy="363.78" r="3.3" fill="#37e800"/>
<circle cx="182.82" cy="362.72" r="3.3" fill="#3ae800"/>
<circle cx="185.55" cy="361.46" r="3.3" fill="#3ce800"/>
<circle cx="188.18" cy="360.02" r="3.3" fill="#3ce800"/>
<circle cx="190.71" cy="358.4" r="3.3" fill="#3be800"/>
<circle cx="193.12" cy="356.61" r="3.3" fill="#39e800"/>
<circle cx="195.4" cy="354.66" r="3.3" fill="#36e800"/>
<circle cx="197.55" cy="352.55" r="3.3" fill="#32e800"/>
<circle cx="199.54" cy="350.3" r="3.3" fill="#2ce800"/>
<circle cx="201.37" cy="347.93" r="3.3" fill="#27e800"/>
<circle cx="203.03" cy="345.42" r="3.3" fill="#21e800"/>
<circle cx="204.52" cy="342.82" r="3.3" fill="#1ae800"/>
<circle cx="205.82" cy="340.11" r="3.3" fill="#14e800"/>
<circle cx="206.93" cy="337.32" r="3.3" fill="#0fe800"/>
<circle cx="207.85" cy="334.46" r="3.3" fill="#0ae800"/>
<circle cx="208.57" cy="331.55" r="3.3" fill="#06e800"/>
<circle cx="209.09" cy="328.59" r="3.3" fill="#03e800"/>
<circle cx="209.4" cy="325.6" r="3.3" fill="#01e800"/>
<circle cx="214" cy="322.6" r="3.3" fill="#00e800"/>
<circle cx="213.91" cy="319.59" r="3.3" fill="#01e800"/>
<circle cx="213.62" cy="316.58" r="3.3" fill="#02e800"/>
<circle cx="213.15" cy="313.61" r="3.3" fill="#05e800"/>
<circle cx="212.49" cy="310.66" r="3.3" fill="#08e800"/>
<circle cx="211.65" cy="307.77" r="3.3" fill="#0ce800"/>
<circle cx="210.63" cy="304.93" r="3.3" fill="#11e800"/>
<circle cx="209.43" cy="302.16" r="3.3" fill="#17e800"/>
<circle cx="208.06" cy="299.48" r="3.3" fill="#1ce800"/>
<circle cx="206.53" cy="296.88" r="3.3" fill="#22e800"/>
<circle cx="204.83" cy="294.39" r="3.3" fill="#27e800"/>
<circle cx="202.98" cy="292" r="3.3" fill="#2ce800"/>
<circle cx="200.99" cy="289.74" r="3.3" fill="#31e800"/>
<circle cx="198.86" cy="287.61" r="3.3" fill="#35e800"/>
<circle cx="196.6" cy="285.62" r="3.3" fill="#38e800"/>
<circle cx="194.21" cy="283.77" r="3.3" fill="#3be800"/>
<circle cx="191.72" cy="282.07" r="3.3" fill="#3ce800"/>
<circle cx="189.12" cy="280.54" r="3.3" fill="#3ce800"/>
<circle cx="186.44" cy="279.17" r="3.3" fill="#3be800"/>
<circle cx="183.67" cy="277.97" r="3.3" fill="#39e800"/>
<circle cx="180.83" cy="276.95" r="3.3" fill="#36e800"/>
<circle cx="177.94" cy="276.11" r="3.3" fill="#33e800"/>
<circle cx="174.99" cy="275.45" r="3.3" fill="#2ee800"/>
<circle cx="172.02" cy="274.98" r="3.3" fill="#29e800"/>
<circle cx="169.01" cy="274.69" r="3.3" fill="#24e800"/>
<circle cx="166" cy="274.6" r="3.3" fill="#1ee800"/>
<circle cx="162.99" cy="274.69" r="3.3" fill="#18e800"/>
<circle cx="159.98" cy="274.98" r="3.3" fill="#13e800"/>
<circle cx="157.01" cy="275.45" r="3.3" fill="#0ee800"/>
<circle cx="154.06" cy="276.11" r="3.3" fill="#09e800"/>
<circle cx="151.17" cy="276.95" r="3.3" fill="#06e800"/>
<circle cx="148.33" cy="277.97" r="3.3" fill="#03e800"/>
<circle cx="145.56" cy="279.17" r="3.3" fill="#01e800"/>
<circle cx="142.88" cy="280.54" r="3.3" fill="#00e800"/>
<circle cx="140.28" cy="282.07" r="3.3" fill="#00e800"/>
<circle cx="137.79" cy="283.77" r="3.3" fill="#01e800"/>
<circle cx="135.4" cy="285.62" r="3.3" fill="#04e800"/>
<circle cx="133.14" cy="287.61" r="3.3" fill="#07e800"/>
<circle cx="131.01" cy="289.74" r="3.3" fill="#0be800"/>
<circle cx="129.02" cy="292" r="3.3" fill="#10e800"/>
<circle cx="127.17" cy="294.39" r="3.3" fill="#15e800"/>
<circle cx="125.47" cy="296.88" r="3.3" fill="#1ae800"/>
<circle cx="123.94" cy="299.48" r="3.3" fill="#20e800"/>
<circle cx="122.57" cy="302.16" r="3.3" fill="#25e800"/>
<circle cx="121.37" cy="304.93" r="3.3" fill="#2be800"/>
<circle cx="120.35" cy="307.77" r="3.3" fill="#30e800"/>
<circle cx="119.51" cy="310.66" r="3.3" fill="#34e800"/>
<circle cx="118.85" cy="313.61" r="3.3" fill="#37e800"/>
<circle cx="118.38" cy="316.58" r="3.3" fill="#3ae800"/>
<circle cx="118.09" cy="319.59" r="3.3" fill="#3be800"/>
<circle cx="118" cy="322.6" r="3.3" fill="#3ce800"/>
<circle cx="118.09" cy="325.61" r="3.3" fill="#3be800"/>
<circle cx="118.38" cy="328.62" r="3.3" fill="#3ae800"/>
<circle cx="118.85" cy="331.59" r="3.3" fill="#37e800"/>
<circle cx="119.51" cy="334.54" r="3.3" fill="#34e800"/>
<circle cx="120.35" cy="337.43" r="3.3" fill="#30e800"/>
<circle cx="121.37" cy="340.27" r="3.3" fill="#2be800"/>
<circle cx="122.57" cy="343.04" r="3.3" fill="#25e800"/>
<circle cx="123.94" cy="345.72" r="3.3" fill="#20e800"/>
<circle cx="125.47" cy="348.32" r="3.3" fill="#1ae800"/>
<circle cx="127.17" cy="350.81" r="3.3" fill="#15e800"/>
<circle cx="129.02" cy="353.2" r="3.3" fill="#10e800"/>
<circle cx="131.01" cy="355.46" r="3.3" fill="#0be800"/>
<circle cx="133.14" cy="357.59" r="3.3" fill="#07e800"/>
<circle cx="135.4" cy="359.58" r="3.3" fill="#04e800"/>
<circle cx="137.79" cy="361.43" r="3.3" fill="#01e800"/>
<circle cx="140.28" cy="363.13" r="3.3" fill="#00e800"/>
<circle cx="142.88" cy="364.66" r="3.3" fill="#00e800"/>
<circle cx="145.56" cy="366.03" r="3.3" fill="#01e800"/>
<circle cx="148.33" cy="367.23" r="3.3" fill="#03e800"/>
<circle cx="151.17" cy="368.25" r="3.3" fill="#06e800"/>
<circle cx="154.06" cy="369.09" r="3.3" fill="#09e800"/>
<circle cx="157.01" cy="369.75" r="3.3" fill="#0ee800"/>
<circle cx="159.98" cy="370.22" r="3.3" fill="#13e800"/>
<circle cx="162.99" cy="370.51" r="3.3" fill="#18e800"/>
<circle cx="166" cy="370.6" r="3.3" fill="#1ee800"/>
<circle cx="169.01" cy="370.51" r="3.3" fill="#24e800"/>
<circle cx="172.02" cy="370.22" r="3.3" fill="#29e800"/>
<circle cx="174.99" cy="369.75" r="3.3" fill="#2ee800"/>
<circle cx="177.94" cy="369.09" r="3.3" fill="#33e800"/>
<circle cx="180.83" cy="368.25" r="3.3" fill="#36e800"/>
<circle cx="183.67" cy="367.23" r="3.3" fill="#39e800"/>
<circle cx="186.44" cy="366.03" r="3.3" fill="#3be800"/>
<circle cx="189.12" cy="364.66" r="3.3" fill="#3ce800"/>
<circle cx="191.72" cy="363.13" r="3.3" fill="#3ce800"/>
<circle cx="194.21" cy="361.43" r="3.3" fill="#3be800"/>
<circle cx="196.6" cy="359.58" r="3.3" fill="#38e800"/>
<circle cx="198.86" cy="357.59" r="3.3" fill="#35e800"/>
<circle cx="200.99" cy="355.46" r="3.3" fill="#31e800"/>
<circle cx="202.98" cy="353.2" r="3.3" fill="#2ce800"/>
<circle cx="204.83" cy="350.81" r="3.3" fill="#27e800"/>
<circle cx="206.53" cy="348.32" r="3.3" fill="#22e800"/>
<circle cx="208.06" cy="345.72" r="3.3" fill="#1ce800"/>
<circle cx="209.43" cy="343.04" r="3.3" fill="#17e800"/>
<circle cx="210.63" cy="340.27" r="3.3" fill="#11e800"/>
<circle cx="211.65" cy="337.43" r="3.3" fill="#0ce800"/>
<circle cx="212.49" cy="334.54" r="3.3" fill="#08e800"/>
<circle cx="213.15" cy="331.59" r="3.3" fill="#05e800"/>
<circle cx="213.62" cy="328.62" r="3.3" fill="#02e800"/>
<circle cx="213.91" cy="325.61" r="3.3" fill="#01e800"/>
<circle cx="196.21" cy="286.6" r="3.3" fill="#75e800"/>
<circle cx="198.46" cy="283.91" r="3.3" fill="#75e800"/>
<circle cx="194.29" cy="285.06" r="3.3" fill="#cae700"/>
<circle cx="196.39" cy="282.27" r="3.3" fill="#cae700"/>
<circle cx="192.28" cy="283.64" r="3.3" fill="#ffcf00"/>
<circle cx="194.24" cy="280.73" r="3.3" fill="#ffcf00"/>
<circle cx="190.21" cy="282.31" r="3.3" fill="#ff8e00"/>
<circle cx="192.01" cy="279.31" r="3.3" fill="#ff8e00"/>
<circle cx="188.07" cy="281.1" r="3.3" fill="#ff5400"/>
<circle cx="189.71" cy="278.01" r="3.3" fill="#ff5400"/>
<circle cx="185.86" cy="280" r="3.3" fill="#ff8e00"/>
<circle cx="187.34" cy="276.83" r="3.3" fill="#ff8e00"/>
<circle cx="183.61" cy="279.02" r="3.3" fill="#ffcf00"/>
<circle cx="184.92" cy="275.78" r="3.3" fill="#ffcf00"/>
<circle cx="181.3" cy="278.16" r="3.3" fill="#cae700"/>
<circle cx="182.44" cy="274.85" r="3.3" fill="#cae700"/>
<circle cx="178.95" cy="277.42" r="3.3" fill="#75e800"/>
<circle cx="179.92" cy="274.06" r="3.3" fill="#75e800"/>
<circle cx="133.35" cy="356.41" r="3.3" fill="#00ec49"/>
<circle cx="130.92" cy="358.93" r="3.3" fill="#00ec49"/>
<circle cx="135.17" cy="358.07" r="3.3" fill="#00eeaf"/>
<circle cx="132.87" cy="360.71" r="3.3" fill="#00eeaf"/>
<circle cx="137.06" cy="359.64" r="3.3" fill="#00d5ff"/>
<circle cx="134.91" cy="362.39" r="3.3" fill="#00d5ff"/>
<circle cx="139.04" cy="361.1" r="3.3" fill="#026ffa"/>
<circle cx="137.03" cy="363.97" r="3.3" fill="#026ffa"/>
<circle cx="141.09" cy="362.46" r="3.3" fill="#0b40e3"/>
<circle cx="139.24" cy="365.43" r="3.3" fill="#0b40e3"/>
<circle cx="143.21" cy="363.71" r="3.3" fill="#026ffa"/>
<circle cx="141.52" cy="366.77" r="3.3" fill="#026ffa"/>
<circle cx="145.4" cy="364.84" r="3.3" fill="#00d5ff"/>
<circle cx="143.86" cy="367.99" r="3.3" fill="#00d5ff"/>
<circle cx="147.64" cy="365.86" r="3.3" fill="#00eeaf"/>
<circle cx="146.27" cy="369.09" r="3.3" fill="#00eeaf"/>
<circle cx="149.93" cy="366.77" r="3.3" fill="#00ec49"/>
<circle cx="148.73" cy="370.05" r="3.3" fill="#00ec49"/>
<circle cx="163.5" cy="314.4" r="3.7" fill="#00e800"/>
<circle cx="168" cy="315" r="3.7" fill="#00e800"/>
<circle cx="172" cy="317.4" r="3.7" fill="#00e800"/>
<circle cx="175" cy="320.4" r="3.7" fill="#00e800"/>
<circle cx="168.5" cy="330.8" r="3.7" fill="#00e800"/>
<circle cx="164" cy="330.2" r="3.7" fill="#00e800"/>
<circle cx="160" cy="327.8" r="3.7" fill="#00e800"/>
<circle cx="157" cy="324.8" r="3.7" fill="#00e800"/>
<circle cx="166" cy="318.6" r="3.7" fill="#00e800"/>
<circle cx="166" cy="326.6" r="3.7" fill="#00e800"/>
<ellipse cx="166.0" cy="322.6" rx="3.9" ry="4.1" fill="#f00000" transform="rotate(30 166.0 322.6)"/>
<g stroke="#000" fill="#000">
<line x1="162.5" y1="244.87" x2="153.01" y2="250.23" stroke-width="0.9"/><path d="M150.32,251.75 L152.61,248.5 L154.29,251.46 Z"/>
<line x1="149.72" y1="252.09" x2="140.23" y2="257.45" stroke-width="0.9"/><path d="M137.54,258.97 L139.83,255.72 L141.51,258.68 Z"/>
<line x1="136.94" y1="259.31" x2="127.45" y2="264.67" stroke-width="0.9"/><path d="M124.76,266.19 L127.05,262.94 L128.73,265.9 Z"/>
<line x1="124.16" y1="266.53" x2="114.67" y2="271.89" stroke-width="0.9"/><path d="M111.98,273.41 L114.27,270.16 L115.95,273.12 Z"/>
<line x1="111.38" y1="273.75" x2="101.89" y2="279.11" stroke-width="0.9"/><path d="M99.2,280.63 L101.49,277.38 L103.17,280.34 Z"/>
<line x1="102.38" y1="278.83" x2="97.25" y2="281.73" stroke-width="0.9"/><path d="M94.55,283.26 L96.84,280.01 L98.52,282.97 Z"/>
<line x1="139.02" y1="249.69" x2="129.37" y2="254.76" stroke-width="0.9"/><path d="M126.63,256.21 L129.02,253.03 L130.61,256.04 Z"/>
<line x1="126.27" y1="256.39" x2="116.62" y2="261.46" stroke-width="0.9"/><path d="M113.88,262.91 L116.27,259.73 L117.86,262.74 Z"/>
<line x1="117.24" y1="261.14" x2="105.82" y2="267.14" stroke-width="0.9"/><path d="M103.08,268.58 L105.47,265.4 L107.05,268.41 Z"/>
<line x1="96.98" y1="284.07" x2="94.59" y2="294.7" stroke-width="0.9"/><path d="M93.91,297.73 L93.04,293.84 L96.36,294.59 Z"/>
<line x1="95.2" y1="298.01" x2="95.2" y2="308.91" stroke-width="0.9"/><path d="M95.2,312.01 L93.5,308.41 L96.9,308.41 Z"/>
<line x1="95.2" y1="312.14" x2="95.2" y2="323.04" stroke-width="0.9"/><path d="M95.2,326.14 L93.5,322.54 L96.9,322.54 Z"/>
<line x1="95.2" y1="326.28" x2="95.2" y2="337.18" stroke-width="0.9"/><path d="M95.2,340.28 L93.5,336.68 L96.9,336.68 Z"/>
<line x1="95.2" y1="340.42" x2="95.2" y2="351.32" stroke-width="0.9"/><path d="M95.2,354.42 L93.5,350.82 L96.9,350.82 Z"/>
<line x1="95.2" y1="354.55" x2="95.2" y2="365.45" stroke-width="0.9"/><path d="M95.2,368.55 L93.5,364.95 L96.9,364.95 Z"/>
<line x1="96.31" y1="364.38" x2="98.38" y2="368.82" stroke-width="0.9"/><path d="M99.69,371.62 L96.63,369.08 L99.71,367.64 Z"/>
<line x1="88.6" y1="305.75" x2="88.6" y2="316.65" stroke-width="0.9"/><path d="M88.6,319.75 L86.9,316.15 L90.3,316.15 Z"/>
<line x1="88.6" y1="319.25" x2="88.6" y2="330.15" stroke-width="0.9"/><path d="M88.6,333.25 L86.9,329.65 L90.3,329.65 Z"/>
<line x1="88.6" y1="329" x2="88.6" y2="338.9" stroke-width="0.9"/><path d="M88.6,342 L86.9,338.4 L90.3,338.4 Z"/>
<line x1="102.03" y1="369.45" x2="111.5" y2="374.85" stroke-width="0.9"/><path d="M114.19,376.39 L110.22,376.08 L111.91,373.13 Z"/>
<line x1="112.25" y1="375.29" x2="121.72" y2="380.69" stroke-width="0.9"/><path d="M124.41,382.23 L120.44,381.92 L122.13,378.97 Z"/>
<line x1="122.47" y1="381.13" x2="131.94" y2="386.53" stroke-width="0.9"/><path d="M134.63,388.07 L130.66,387.76 L132.35,384.81 Z"/>
<line x1="132.69" y1="386.97" x2="142.16" y2="392.37" stroke-width="0.9"/><path d="M144.85,393.91 L140.88,393.6 L142.57,390.65 Z"/>
<line x1="142.91" y1="392.81" x2="152.38" y2="398.21" stroke-width="0.9"/><path d="M155.07,399.75 L151.1,399.44 L152.79,396.49 Z"/>
<line x1="150.63" y1="397.22" x2="160.09" y2="402.62" stroke-width="0.9"/><path d="M162.78,404.16 L158.81,403.85 L160.5,400.9 Z"/>
<line x1="166.99" y1="384.71" x2="177.1" y2="380.61" stroke-width="0.9"/><path d="M179.97,379.45 L177.27,382.37 L175.99,379.22 Z"/>
<line x1="177.96" y1="380.26" x2="188.06" y2="376.17" stroke-width="0.9"/><path d="M190.93,375 L188.23,377.93 L186.96,374.78 Z"/>
<line x1="189.02" y1="376.09" x2="199.46" y2="372.96" stroke-width="0.9"/><path d="M202.43,372.07 L199.47,374.73 L198.49,371.48 Z"/>
<line x1="200.17" y1="371.92" x2="210.94" y2="370.22" stroke-width="0.9"/><path d="M214,369.73 L210.71,371.97 L210.18,368.62 Z"/>
<line x1="211.86" y1="370.07" x2="222.62" y2="368.37" stroke-width="0.9"/><path d="M225.69,367.88 L222.4,370.12 L221.87,366.77 Z"/>
<line x1="223.54" y1="368.22" x2="234.31" y2="366.52" stroke-width="0.9"/><path d="M237.37,366.03 L234.08,368.27 L233.55,364.91 Z"/>
<line x1="232.35" y1="366.83" x2="239.16" y2="365.75" stroke-width="0.9"/><path d="M242.23,365.26 L238.94,367.5 L238.4,364.15 Z"/>
<line x1="171.25" y1="398.67" x2="181.5" y2="394.96" stroke-width="0.9"/><path d="M184.41,393.91 L181.61,396.73 L180.45,393.53 Z"/>
<line x1="182.91" y1="394.45" x2="193.16" y2="390.74" stroke-width="0.9"/><path d="M196.07,389.69 L193.27,392.51 L192.11,389.31 Z"/>
<line x1="194.57" y1="390.23" x2="204.82" y2="386.52" stroke-width="0.9"/><path d="M207.73,385.47 L204.93,388.29 L203.77,385.09 Z"/>
<line x1="206.23" y1="386.01" x2="216.48" y2="382.3" stroke-width="0.9"/><path d="M219.39,381.25 L216.59,384.07 L215.43,380.87 Z"/>
<line x1="217.89" y1="381.79" x2="228.14" y2="378.08" stroke-width="0.9"/><path d="M231.05,377.03 L228.25,379.85 L227.09,376.65 Z"/>
<line x1="226.54" y1="378.66" x2="234.91" y2="375.63" stroke-width="0.9"/><path d="M237.82,374.58 L235.02,377.4 L233.86,374.2 Z"/>
<line x1="235.2" y1="357.4" x2="235.2" y2="346.5" stroke-width="0.9"/><path d="M235.2,343.4 L236.9,347 L233.5,347 Z"/>
<line x1="235.2" y1="346.2" x2="235.2" y2="335.3" stroke-width="0.9"/><path d="M235.2,332.2 L236.9,335.8 L233.5,335.8 Z"/>
<line x1="235.2" y1="335" x2="235.2" y2="324.1" stroke-width="0.9"/><path d="M235.2,321 L236.9,324.6 L233.5,324.6 Z"/>
<line x1="235.2" y1="323.8" x2="235.2" y2="312.9" stroke-width="0.9"/><path d="M235.2,309.8 L236.9,313.4 L233.5,313.4 Z"/>
<line x1="235.2" y1="312.6" x2="235.2" y2="301.7" stroke-width="0.9"/><path d="M235.2,298.6 L236.9,302.2 L233.5,302.2 Z"/>
<line x1="235.2" y1="301.4" x2="235.2" y2="290.5" stroke-width="0.9"/><path d="M235.2,287.4 L236.9,291 L233.5,291 Z"/>
<line x1="235.2" y1="292.8" x2="235.2" y2="285.9" stroke-width="0.9"/><path d="M235.2,282.8 L236.9,286.4 L233.5,286.4 Z"/>
<line x1="242.3" y1="338.65" x2="242.3" y2="327.75" stroke-width="0.9"/><path d="M242.3,324.65 L244,328.25 L240.6,328.25 Z"/>
<line x1="242.3" y1="323.35" x2="242.3" y2="312.45" stroke-width="0.9"/><path d="M242.3,309.35 L244,312.95 L240.6,312.95 Z"/>
<line x1="242.3" y1="312.7" x2="242.3" y2="301.8" stroke-width="0.9"/><path d="M242.3,298.7 L244,302.3 L240.6,302.3 Z"/>
<line x1="233.56" y1="277" x2="224.82" y2="270.49" stroke-width="0.9"/><path d="M222.34,268.64 L226.24,269.43 L224.21,272.15 Z"/>
<line x1="223.47" y1="269.49" x2="214.73" y2="262.97" stroke-width="0.9"/><path d="M212.25,261.12 L216.15,261.91 L214.12,264.64 Z"/>
<line x1="213.38" y1="261.97" x2="204.64" y2="255.46" stroke-width="0.9"/><path d="M202.15,253.6 L206.06,254.39 L204.03,257.12 Z"/>
<line x1="203.56" y1="254.04" x2="194.1" y2="248.62" stroke-width="0.9"/><path d="M191.41,247.07 L195.38,247.39 L193.69,250.34 Z"/>
<line x1="192.64" y1="247.78" x2="183.19" y2="242.35" stroke-width="0.9"/><path d="M180.5,240.81 L184.47,241.13 L182.78,244.08 Z"/>
<line x1="181.73" y1="241.52" x2="172.27" y2="236.09" stroke-width="0.9"/><path d="M169.59,234.55 L173.55,234.86 L171.86,237.81 Z"/>
<line x1="173.67" y1="236.89" x2="165.95" y2="232.46" stroke-width="0.9"/><path d="M163.26,230.92 L167.23,231.24 L165.54,234.18 Z"/>
<line x1="232.32" y1="295.56" x2="224.21" y2="288.29" stroke-width="0.9"/><path d="M221.9,286.22 L225.72,287.35 L223.45,289.89 Z"/>
<line x1="221.15" y1="285.54" x2="213.04" y2="278.27" stroke-width="0.9"/><path d="M210.73,276.2 L214.55,277.33 L212.28,279.86 Z"/>
<line x1="209.98" y1="275.52" x2="201.87" y2="268.25" stroke-width="0.9"/><path d="M199.56,266.18 L203.37,267.31 L201.1,269.84 Z"/>
<line x1="198.31" y1="266.13" x2="189.35" y2="259.92" stroke-width="0.9"/><path d="M186.8,258.16 L190.73,258.81 L188.79,261.61 Z"/>
<line x1="186.07" y1="257.43" x2="176.44" y2="252.32" stroke-width="0.9"/><path d="M173.7,250.87 L177.68,251.05 L176.09,254.06 Z"/>
<line x1="172.81" y1="250.4" x2="163.18" y2="245.29" stroke-width="0.9"/><path d="M160.45,243.84 L164.42,244.02 L162.83,247.02 Z"/>
<line x1="163.53" y1="245.47" x2="158.32" y2="242.71" stroke-width="0.9"/><path d="M155.58,241.26 L159.56,241.44 L157.97,244.45 Z"/>
<line x1="220" y1="355.1" x2="220" y2="345.2" stroke-width="0.9"/><path d="M220,342.1 L221.7,345.7 L218.3,345.7 Z"/>
<line x1="220" y1="345.1" x2="220" y2="335.2" stroke-width="0.9"/><path d="M220,332.1 L221.7,335.7 L218.3,335.7 Z"/>
<line x1="220" y1="335.1" x2="220" y2="325.2" stroke-width="0.9"/><path d="M220,322.1 L221.7,325.7 L218.3,325.7 Z"/>
<line x1="220" y1="325.1" x2="220" y2="315.2" stroke-width="0.9"/><path d="M220,312.1 L221.7,315.7 L218.3,315.7 Z"/>
<line x1="220" y1="315.1" x2="220" y2="305.2" stroke-width="0.9"/><path d="M220,302.1 L221.7,305.7 L218.3,305.7 Z"/>
<line x1="220" y1="305.1" x2="220" y2="295.2" stroke-width="0.9"/><path d="M220,292.1 L221.7,295.7 L218.3,295.7 Z"/>
<line x1="221.15" y1="292.08" x2="212.57" y2="287.13" stroke-width="0.9"/><path d="M209.89,285.58 L213.86,285.91 L212.16,288.86 Z"/>
<line x1="212.49" y1="287.08" x2="203.91" y2="282.13" stroke-width="0.9"/><path d="M201.23,280.58 L205.19,280.91 L203.49,283.86 Z"/>
<line x1="203.83" y1="282.08" x2="195.25" y2="277.13" stroke-width="0.9"/><path d="M192.57,275.58 L196.53,275.91 L194.83,278.86 Z"/>
<line x1="195.17" y1="277.08" x2="186.59" y2="272.13" stroke-width="0.9"/><path d="M183.91,270.58 L187.87,270.91 L186.17,273.86 Z"/>
<line x1="186.5" y1="272.08" x2="177.93" y2="267.13" stroke-width="0.9"/><path d="M175.25,265.58 L179.21,265.91 L177.51,268.86 Z"/>
<line x1="177.84" y1="267.08" x2="169.27" y2="262.13" stroke-width="0.9"/><path d="M166.59,260.58 L170.55,260.91 L168.85,263.86 Z"/>
<line x1="167.15" y1="259.58" x2="158.57" y2="264.53" stroke-width="0.9"/><path d="M155.89,266.08 L158.16,262.81 L159.86,265.76 Z"/>
<line x1="158.49" y1="264.58" x2="149.91" y2="269.53" stroke-width="0.9"/><path d="M147.23,271.08 L149.49,267.81 L151.19,270.76 Z"/>
<line x1="149.83" y1="269.58" x2="141.25" y2="274.53" stroke-width="0.9"/><path d="M138.57,276.08 L140.83,272.81 L142.53,275.76 Z"/>
<line x1="141.17" y1="274.58" x2="132.59" y2="279.53" stroke-width="0.9"/><path d="M129.91,281.08 L132.17,277.81 L133.87,280.76 Z"/>
<line x1="132.5" y1="279.58" x2="123.93" y2="284.53" stroke-width="0.9"/><path d="M121.25,286.08 L123.51,282.81 L125.21,285.76 Z"/>
<line x1="123.84" y1="284.58" x2="115.27" y2="289.53" stroke-width="0.9"/><path d="M112.59,291.08 L114.85,287.81 L116.55,290.76 Z"/>
<line x1="112" y1="290.1" x2="112" y2="300" stroke-width="0.9"/><path d="M112,303.1 L110.3,299.5 L113.7,299.5 Z"/>
<line x1="112" y1="300.1" x2="112" y2="310" stroke-width="0.9"/><path d="M112,313.1 L110.3,309.5 L113.7,309.5 Z"/>
<line x1="112" y1="310.1" x2="112" y2="320" stroke-width="0.9"/><path d="M112,323.1 L110.3,319.5 L113.7,319.5 Z"/>
<line x1="112" y1="320.1" x2="112" y2="330" stroke-width="0.9"/><path d="M112,333.1 L110.3,329.5 L113.7,329.5 Z"/>
<line x1="112" y1="330.1" x2="112" y2="340" stroke-width="0.9"/><path d="M112,343.1 L110.3,339.5 L113.7,339.5 Z"/>
<line x1="112" y1="340.1" x2="112" y2="350" stroke-width="0.9"/><path d="M112,353.1 L110.3,349.5 L113.7,349.5 Z"/>
<line x1="110.85" y1="353.12" x2="119.43" y2="358.07" stroke-width="0.9"/><path d="M122.11,359.62 L118.14,359.29 L119.84,356.34 Z"/>
<line x1="119.51" y1="358.12" x2="128.09" y2="363.07" stroke-width="0.9"/><path d="M130.77,364.62 L126.81,364.29 L128.51,361.34 Z"/>
<line x1="128.17" y1="363.12" x2="136.75" y2="368.07" stroke-width="0.9"/><path d="M139.43,369.62 L135.47,369.29 L137.17,366.34 Z"/>
<line x1="136.83" y1="368.12" x2="145.41" y2="373.07" stroke-width="0.9"/><path d="M148.09,374.62 L144.13,374.29 L145.83,371.34 Z"/>
<line x1="145.5" y1="373.12" x2="154.07" y2="378.07" stroke-width="0.9"/><path d="M156.75,379.62 L152.79,379.29 L154.49,376.34 Z"/>
<line x1="154.16" y1="378.12" x2="162.73" y2="383.07" stroke-width="0.9"/><path d="M165.41,384.62 L161.45,384.29 L163.15,381.34 Z"/>
<line x1="164.85" y1="385.62" x2="173.43" y2="380.67" stroke-width="0.9"/><path d="M176.11,379.12 L173.84,382.39 L172.14,379.44 Z"/>
<line x1="173.51" y1="380.62" x2="182.09" y2="375.67" stroke-width="0.9"/><path d="M184.77,374.12 L182.51,377.39 L180.81,374.44 Z"/>
<line x1="182.17" y1="375.62" x2="190.75" y2="370.67" stroke-width="0.9"/><path d="M193.43,369.12 L191.17,372.39 L189.47,369.44 Z"/>
<line x1="190.83" y1="370.62" x2="199.41" y2="365.67" stroke-width="0.9"/><path d="M202.09,364.12 L199.83,367.39 L198.13,364.44 Z"/>
<line x1="199.5" y1="365.62" x2="208.07" y2="360.67" stroke-width="0.9"/><path d="M210.75,359.12 L208.49,362.39 L206.79,359.44 Z"/>
<line x1="208.16" y1="360.62" x2="216.73" y2="355.67" stroke-width="0.9"/><path d="M219.41,354.12 L217.15,357.39 L215.45,354.44 Z"/>
<path d="M199.69,333.79 L203.8,330.35 L207.53,326.1 L210.74,321.07 L213.3,315.33 L215.09,308.97 L215.51,305.77" fill="none" stroke-width="0.85"/><path d="M216,302.1 L217.18,306.5 L213.71,306.04 Z" stroke="none"/>
<path d="M201.44,324.63 L204.05,320.03 L206.01,314.81 L207.23,309.07 L207.61,302.92 L207.06,296.49 L206.36,293.51" fill="none" stroke-width="0.85"/><path d="M205.52,289.9 L208.18,293.59 L204.77,294.39 Z" stroke="none"/>
<path d="M200.8,315.57 L201.02,311.91 L200.85,308.14 L200.27,304.31 L199.27,300.47 L197.84,296.65 L197.62,296.21" fill="none" stroke-width="0.85"/><path d="M195.97,292.9 L199.41,295.88 L196.28,297.44 Z" stroke="none"/>
<path d="M198.46,308.22 L198.73,304.66 L198.62,300.97 L198.12,297.18 L197.19,293.32 L195.84,289.45 L195.61,288.96" fill="none" stroke-width="0.85"/><path d="M194.04,285.61 L197.41,288.67 L194.23,290.15 Z" stroke="none"/>
<path d="M196.71,304.79 L196.87,299.11 L196.06,293.14 L194.21,287.04 L191.27,280.99 L187.23,275.16 L184.66,272.43" fill="none" stroke-width="0.85"/><path d="M182.12,269.74 L186.28,271.59 L183.73,273.99 Z" stroke="none"/>
<path d="M189.74,296.2 L188.09,293.26 L186.11,290.41 L183.8,287.7 L181.16,285.15 L178.21,282.8 L178.07,282.7" fill="none" stroke-width="0.85"/><path d="M174.97,280.69 L179.44,281.51 L177.53,284.44 Z" stroke="none"/>
<path d="M186.14,293.37 L184.16,289.06 L181.48,284.87 L178.1,280.89 L174.03,277.23 L169.32,274 L167.3,272.96" fill="none" stroke-width="0.85"/><path d="M164.01,271.28 L168.54,271.63 L166.95,274.75 Z" stroke="none"/>
<path d="M179.33,289.7 L176.12,285.96 L172.21,282.56 L167.65,279.6 L162.48,277.19 L156.79,275.44 L154.3,275.02" fill="none" stroke-width="0.85"/><path d="M150.65,274.42 L155.08,273.38 L154.51,276.83 Z" stroke="none"/>
<path d="M172.41,287.68 L168.16,284.32 L163.17,281.52 L157.52,279.42 L151.3,278.12 L144.64,277.74 L141.36,278.04" fill="none" stroke-width="0.85"/><path d="M137.68,278.37 L141.7,276.25 L142.02,279.74 Z" stroke="none"/>
<path d="M161.38,287.4 L158.08,286.12 L154.53,285.15 L150.77,284.53 L146.84,284.29 L142.76,284.45 L142.25,284.52" fill="none" stroke-width="0.85"/><path d="M138.58,285.03 L142.5,282.72 L142.99,286.18 Z" stroke="none"/>
<path d="M157.82,288.06 L152.54,287.39 L146.95,287.55 L141.19,288.6 L135.39,290.6 L129.72,293.55 L127.31,295.3" fill="none" stroke-width="0.85"/><path d="M124.31,297.47 L126.69,293.59 L128.74,296.42 Z" stroke="none"/>
<path d="M149.02,291.43 L144.49,292.38 L139.96,293.99 L135.52,296.26 L131.26,299.2 L127.3,302.79 L126.11,304.19" fill="none" stroke-width="0.85"/><path d="M123.71,307.01 L125.1,302.68 L127.76,304.94 Z" stroke="none"/>
<path d="M146.71,292.8 L141.12,293.38 L135.38,294.96 L129.66,297.57 L124.13,301.23 L118.99,305.92 L116.72,308.74" fill="none" stroke-width="0.85"/><path d="M114.4,311.62 L115.67,307.25 L118.39,309.44 Z" stroke="none"/>
<path d="M139.08,299.46 L133.98,301.79 L129.06,305.1 L124.5,309.36 L120.45,314.54 L117.1,320.58 L115.87,323.89" fill="none" stroke-width="0.85"/><path d="M114.59,327.36 L114.41,322.81 L117.69,324.03 Z" stroke="none"/>
<path d="M132.25,309.76 L130.47,312.11 L128.86,314.66 L127.44,317.39 L126.22,320.29 L125.23,323.35 L125.32,322.95" fill="none" stroke-width="0.85"/><path d="M124.47,326.55 L123.73,322.06 L127.14,322.86 Z" stroke="none"/>
<path d="M131.4,314.66 L128.23,318.01 L125.4,321.93 L123.01,326.39 L121.13,331.34 L119.85,336.71 L119.62,338.76" fill="none" stroke-width="0.85"/><path d="M119.22,342.44 L117.94,338.08 L121.42,338.46 Z" stroke="none"/>
<path d="M130.54,320.83 L128.86,325.4 L127.79,330.35 L127.4,335.62 L127.75,341.09 L128.88,346.66 L129.61,348.74" fill="none" stroke-width="0.85"/><path d="M130.84,352.23 L127.8,348.84 L131.1,347.69 Z" stroke="none"/>
<path d="M131.2,329.6 L130.35,333.1 L129.86,336.79 L129.75,340.65 L130.05,344.62 L130.79,348.68 L130.94,349.21" fill="none" stroke-width="0.85"/><path d="M131.96,352.77 L129.12,349.22 L132.48,348.25 Z" stroke="none"/>
<path d="M133.98,337.93 L133.65,341.41 L133.69,345.04 L134.11,348.77 L134.93,352.57 L136.16,356.4 L136.34,356.83" fill="none" stroke-width="0.85"/><path d="M137.81,360.22 L134.54,357.06 L137.75,355.67 Z" stroke="none"/>
<path d="M136.25,341.97 L136.51,346.71 L137.47,351.59 L139.16,356.53 L141.6,361.42 L144.79,366.16 L146.29,367.85" fill="none" stroke-width="0.85"/><path d="M148.74,370.63 L144.65,368.64 L147.27,366.32 Z" stroke="none"/>
<path d="M142.9,349.56 L144.69,353.33 L147.02,357.01 L149.88,360.51 L153.27,363.77 L157.16,366.72 L158.33,367.41" fill="none" stroke-width="0.85"/><path d="M161.52,369.28 L157.01,368.66 L158.79,365.64 Z" stroke="none"/>
<path d="M145.57,351.63 L147.98,354.76 L150.82,357.7 L154.08,360.37 L157.74,362.73 L161.75,364.73 L162.62,365.05" fill="none" stroke-width="0.85"/><path d="M166.09,366.31 L161.55,366.52 L162.75,363.23 Z" stroke="none"/>
<path d="M157.59,357.09 L160.15,359.09 L162.99,360.89 L166.08,362.46 L169.4,363.77 L172.93,364.8 L173.01,364.81" fill="none" stroke-width="0.85"/><path d="M176.64,365.51 L172.19,366.44 L172.85,363 Z" stroke="none"/>
<path d="M162.73,357.95 L165.96,359.78 L169.49,361.3 L173.29,362.48 L177.34,363.27 L181.58,363.64 L182.28,363.62" fill="none" stroke-width="0.85"/><path d="M185.98,363.56 L181.81,365.38 L181.75,361.88 Z" stroke="none"/>
<path d="M172.39,357.52 L175.52,358.33 L178.81,358.85 L182.24,359.07 L185.78,358.96 L189.4,358.51 L189.46,358.5" fill="none" stroke-width="0.85"/><path d="M193.08,357.71 L189.34,360.32 L188.6,356.9 Z" stroke="none"/>
<path d="M173.36,357.33 L178.12,358.27 L183.19,358.54 L188.48,358.09 L193.89,356.87 L199.31,354.84 L201.36,353.74" fill="none" stroke-width="0.85"/><path d="M204.62,351.99 L201.75,355.52 L200.09,352.43 Z" stroke="none"/>
<path d="M181.59,354.5 L186.71,354.12 L191.97,352.94 L197.24,350.9 L202.38,347.99 L207.26,344.22 L209.17,342.25" fill="none" stroke-width="0.85"/><path d="M211.74,339.6 L210.08,343.83 L207.56,341.4 Z" stroke="none"/>
<path d="M188.93,349.7 L193.15,348.68 L197.39,347.06 L201.57,344.83 L205.61,341.99 L209.41,338.54 L210.49,337.3" fill="none" stroke-width="0.85"/><path d="M212.91,334.5 L211.48,338.82 L208.84,336.53 Z" stroke="none"/>
<path d="M194.4,343.9 L198.5,342.27 L202.54,340.02 L206.43,337.16 L210.09,333.69 L213.44,329.63 L214.4,328.13" fill="none" stroke-width="0.85"/><path d="M216.39,325.01 L215.6,329.49 L212.65,327.61 Z" stroke="none"/>
<path d="M197.48,339.01 L201.14,335.48 L204.39,331.27 L207.11,326.44 L209.2,321.04 L210.54,315.18 L210.75,312.63" fill="none" stroke-width="0.85"/><path d="M211.06,308.94 L212.46,313.27 L208.97,312.98 Z" stroke="none"/>
<path d="M203.69,322.38 L204.62,319.54 L205.32,316.57 L205.79,313.48 L206.02,310.29 L205.99,307.02 L206.02,307.37" fill="none" stroke-width="0.85"/><path d="M205.68,303.69 L207.81,307.71 L204.32,308.03 Z" stroke="none"/>
<path d="M204.1,318.86 L204.75,315.72 L205.14,312.46 L205.25,309.1 L205.07,305.67 L204.59,302.18 L204.61,302.27" fill="none" stroke-width="0.85"/><path d="M203.8,298.66 L206.43,302.38 L203.02,303.15 Z" stroke="none"/>
<path d="M201.19,312.92 L201.45,308.33 L201.1,303.56 L200.1,298.69 L198.44,293.82 L196.09,289.03 L195.09,287.51" fill="none" stroke-width="0.85"/><path d="M193.06,284.42 L196.83,286.97 L193.91,288.89 Z" stroke="none"/>
<path d="M196.68,302.46 L196.69,299.19 L196.39,295.82 L195.75,292.39 L194.77,288.91 L193.45,285.43 L193.39,285.31" fill="none" stroke-width="0.85"/><path d="M191.77,281.98 L195.18,284.99 L192.03,286.52 Z" stroke="none"/>
<path d="M195.7,303.16 L194.85,298.36 L193.25,293.5 L190.88,288.71 L187.74,284.09 L183.83,279.76 L182.03,278.23" fill="none" stroke-width="0.85"/><path d="M179.2,275.85 L183.54,277.22 L181.28,279.89 Z" stroke="none"/>
<path d="M188.63,294.9 L186.27,291.12 L183.34,287.53 L179.84,284.22 L175.81,281.28 L171.29,278.78 L169.76,278.16" fill="none" stroke-width="0.85"/><path d="M166.33,276.78 L170.88,276.72 L169.58,279.97 Z" stroke="none"/>
<path d="M182.3,289.87 L179.92,287.39 L177.24,285.09 L174.26,283 L171.01,281.15 L167.49,279.58 L167.25,279.5" fill="none" stroke-width="0.85"/><path d="M163.75,278.31 L168.29,278 L167.17,281.31 Z" stroke="none"/>
<path d="M172.73,286.49 L170.48,284.77 L168.03,283.2 L165.39,281.78 L162.57,280.55 L159.58,279.52 L160.03,279.64" fill="none" stroke-width="0.85"/><path d="M156.45,278.71 L160.95,278.07 L160.07,281.46 Z" stroke="none"/>
<path d="M170.37,287.3 L167.47,285.24 L164.25,283.42 L160.74,281.9 L156.97,280.7 L152.96,279.86 L152.43,279.81" fill="none" stroke-width="0.85"/><path d="M148.75,279.41 L153.12,278.12 L152.74,281.6 Z" stroke="none"/>
<path d="M166.74,287.11 L162.31,284.32 L157.24,282.13 L151.62,280.64 L145.54,279.94 L139.12,280.13 L136.13,280.64" fill="none" stroke-width="0.85"/><path d="M132.48,281.27 L136.32,278.83 L136.91,282.28 Z" stroke="none"/>
<path d="M154.73,285.62 L151.48,285.63 L148.16,285.93 L144.8,286.53 L141.43,287.44 L138.07,288.66 L138.12,288.63" fill="none" stroke-width="0.85"/><path d="M134.76,290.19 L137.84,286.84 L139.31,290.01 Z" stroke="none"/>
<path d="M146.49,289.78 L143.46,290.12 L140.39,290.73 L137.3,291.62 L134.21,292.79 L131.15,294.24 L131.34,294.13" fill="none" stroke-width="0.85"/><path d="M128.14,295.98 L130.89,292.37 L132.65,295.39 Z" stroke="none"/>
<path d="M138.87,294.96 L135.93,296.36 L133.05,298.07 L130.26,300.06 L127.58,302.34 L125.05,304.91 L125.06,304.9" fill="none" stroke-width="0.85"/><path d="M122.7,307.75 L124.03,303.4 L126.73,305.63 Z" stroke="none"/>
<path d="M139.33,299.17 L135.76,301.36 L132.36,304.05 L129.2,307.24 L126.36,310.9 L123.89,314.99 L123.38,316.12" fill="none" stroke-width="0.85"/><path d="M121.86,319.49 L121.99,314.94 L125.18,316.38 Z" stroke="none"/>
<path d="M131.1,305.97 L128.66,308.62 L126.41,311.57 L124.41,314.8 L122.68,318.3 L121.25,322.05 L121.14,322.44" fill="none" stroke-width="0.85"/><path d="M120.15,326 L119.59,321.49 L122.96,322.42 Z" stroke="none"/>
<path d="M130.41,310.85 L127.86,314.43 L125.68,318.43 L123.93,322.8 L122.68,327.5 L121.96,332.47 L121.93,333.94" fill="none" stroke-width="0.85"/><path d="M121.83,337.64 L120.19,333.4 L123.69,333.49 Z" stroke="none"/>
<path d="M131.3,315.12 L128.5,318.96 L126.14,323.34 L124.33,328.22 L123.15,333.53 L122.65,339.17 L122.75,341.37" fill="none" stroke-width="0.85"/><path d="M122.92,345.06 L120.98,340.95 L124.48,340.79 Z" stroke="none"/>
<path d="M130.51,323.47 L128.97,328.03 L128.03,332.98 L127.77,338.22 L128.25,343.66 L129.51,349.2 L130.28,351.26" fill="none" stroke-width="0.85"/><path d="M131.58,354.73 L128.47,351.41 L131.75,350.18 Z" stroke="none"/>
<path d="M131.45,334.79 L131.52,337.99 L131.9,341.25 L132.58,344.55 L133.58,347.85 L134.89,351.13 L134.86,351.07" fill="none" stroke-width="0.85"/><path d="M136.53,354.36 L133.07,351.41 L136.19,349.83 Z" stroke="none"/>
<path d="M133.76,339.73 L134.09,342.88 L134.71,346.07 L135.65,349.29 L136.9,352.5 L138.48,355.66 L138.44,355.6" fill="none" stroke-width="0.85"/><path d="M140.37,358.76 L136.69,356.09 L139.67,354.26 Z" stroke="none"/>
<path d="M140.04,346.81 L141.07,350.09 L142.46,353.36 L144.24,356.58 L146.4,359.7 L148.93,362.69 L149.17,362.93" fill="none" stroke-width="0.85"/><path d="M151.82,365.51 L147.59,363.84 L150.03,361.33 Z" stroke="none"/>
<path d="M144.66,352.02 L146.16,354.32 L147.88,356.54 L149.81,358.68 L151.95,360.7 L154.29,362.6 L153.78,362.25" fill="none" stroke-width="0.85"/><path d="M156.82,364.35 L152.37,363.41 L154.36,360.52 Z" stroke="none"/>
<path d="M149.48,355.15 L152.15,357.96 L155.23,360.55 L158.67,362.86 L162.47,364.85 L166.58,366.47 L167.4,366.69" fill="none" stroke-width="0.85"/><path d="M170.96,367.67 L166.45,368.25 L167.38,364.87 Z" stroke="none"/>
<path d="M159.84,357.56 L162.17,359.67 L164.78,361.62 L167.63,363.38 L170.74,364.91 L174.07,366.21 L174.05,366.2" fill="none" stroke-width="0.85"/><path d="M177.61,367.23 L173.09,367.75 L174.06,364.38 Z" stroke="none"/>
<path d="M160.6,357.69 L164.49,360.12 L168.85,362.1 L173.65,363.54 L178.79,364.38 L184.22,364.56 L186.15,364.38" fill="none" stroke-width="0.85"/><path d="M189.83,364.03 L185.82,366.17 L185.49,362.68 Z" stroke="none"/>
<path d="M167.76,358.21 L172.3,359.84 L177.24,360.87 L182.5,361.22 L187.98,360.84 L193.6,359.68 L195.74,358.93" fill="none" stroke-width="0.85"/><path d="M199.23,357.7 L195.84,360.75 L194.68,357.44 Z" stroke="none"/>
<path d="M176.33,356.57 L180.46,357.05 L184.8,357.02 L189.27,356.45 L193.82,355.32 L198.36,353.59 L199.54,352.97" fill="none" stroke-width="0.85"/><path d="M202.82,351.26 L199.91,354.75 L198.29,351.65 Z" stroke="none"/>
<path d="M184.86,356.46 L187.76,355.86 L190.67,355.01 L193.57,353.92 L196.43,352.57 L199.23,350.97 L198.9,351.2" fill="none" stroke-width="0.85"/><path d="M201.96,349.13 L199.47,352.93 L197.5,350.03 Z" stroke="none"/>
<path d="M191.8,351.77 L194.58,350.54 L197.32,349.06 L199.98,347.32 L202.56,345.34 L205.02,343.11 L204.81,343.33" fill="none" stroke-width="0.85"/><path d="M207.34,340.64 L205.74,344.9 L203.19,342.5 Z" stroke="none"/>
<path d="M193.7,344.8 L197.32,342.7 L200.79,340.07 L204.03,336.92 L206.98,333.28 L209.57,329.18 L210.14,327.98" fill="none" stroke-width="0.85"/><path d="M211.73,324.64 L211.5,329.19 L208.34,327.68 Z" stroke="none"/>
<path d="M198.16,340.44 L200.89,337.97 L203.44,335.15 L205.74,331.98 L207.78,328.5 L209.49,324.72 L209.67,324.19" fill="none" stroke-width="0.85"/><path d="M210.86,320.68 L211.17,325.22 L207.86,324.1 Z" stroke="none"/>
<path d="M198.74,336.33 L203.31,333.24 L207.57,329.24 L211.37,324.37 L214.55,318.69 L216.97,312.28 L217.72,308.87" fill="none" stroke-width="0.85"/><path d="M218.51,305.25 L219.32,309.73 L215.9,308.98 Z" stroke="none"/>
<path d="M204.23,328.08 L206,325.15 L207.54,321.97 L208.81,318.56 L209.8,314.95 L210.48,311.16 L210.5,310.91" fill="none" stroke-width="0.85"/><path d="M210.82,307.22 L212.2,311.56 L208.71,311.26 Z" stroke="none"/>
<path d="M204.08,324.47 L205.92,321.1 L207.45,317.43 L208.64,313.48 L209.44,309.3 L209.82,304.91 L209.81,304.06" fill="none" stroke-width="0.85"/><path d="M209.75,300.36 L211.56,304.53 L208.06,304.58 Z" stroke="none"/>
<path d="M205.12,313.94 L205.54,311.25 L205.76,308.47 L205.8,305.61 L205.62,302.71 L205.24,299.76 L205.37,300.41" fill="none" stroke-width="0.85"/><path d="M204.64,296.78 L207.18,300.55 L203.75,301.24 Z" stroke="none"/>
<path d="M204.3,307.18 L204.04,304.42 L203.59,301.64 L202.93,298.84 L202.07,296.05 L201,293.27 L201.28,293.88" fill="none" stroke-width="0.85"/><path d="M199.72,290.52 L203.08,293.59 L199.91,295.07 Z" stroke="none"/>
<path d="M201.09,304.96 L201.07,300.86 L200.59,296.62 L199.62,292.32 L198.15,287.98 L196.16,283.69 L195.55,282.66" fill="none" stroke-width="0.85"/><path d="M193.65,279.48 L197.31,282.19 L194.3,283.98 Z" stroke="none"/>
<path d="M194.31,300.45 L193.99,295.89 L193.02,291.2 L191.39,286.46 L189.07,281.75 L186.06,277.18 L184.76,275.65" fill="none" stroke-width="0.85"/><path d="M182.37,272.83 L186.42,274.9 L183.75,277.16 Z" stroke="none"/>
<path d="M194.52,294.8 L192.43,290.47 L189.72,286.27 L186.4,282.3 L182.48,278.63 L178,275.36 L176.22,274.37" fill="none" stroke-width="0.85"/><path d="M172.99,272.56 L177.51,273.08 L175.8,276.14 Z" stroke="none"/>
<path d="M183.16,285.83 L181.53,283.28 L179.64,280.79 L177.51,278.4 L175.14,276.12 L172.54,273.96 L172.73,274.09" fill="none" stroke-width="0.85"/><path d="M169.7,271.96 L174.14,272.95 L172.12,275.81 Z" stroke="none"/>
<path d="M179.15,289.63 L176.5,285.93 L173.22,282.45 L169.34,279.29 L164.9,276.53 L159.94,274.24 L158.04,273.64" fill="none" stroke-width="0.85"/><path d="M154.51,272.52 L159.04,272.12 L157.98,275.46 Z" stroke="none"/>
<path d="M172.21,284.77 L169.17,282.03 L165.71,279.55 L161.86,277.38 L157.64,275.56 L153.08,274.16 L151.87,273.92" fill="none" stroke-width="0.85"/><path d="M148.24,273.21 L152.7,272.3 L152.02,275.73 Z" stroke="none"/>
<path d="M164.69,285.29 L161.04,283 L156.98,281.09 L152.54,279.61 L147.77,278.61 L142.72,278.14 L141.15,278.16" fill="none" stroke-width="0.85"/><path d="M137.45,278.23 L141.62,276.41 L141.68,279.91 Z" stroke="none"/>
<path d="M156.13,283.5 L152.95,283.36 L149.7,283.48 L146.4,283.88 L143.07,284.55 L139.73,285.51 L139.88,285.46" fill="none" stroke-width="0.85"/><path d="M136.42,286.76 L139.73,283.64 L140.97,286.92 Z" stroke="none"/>
<path d="M150.08,286.65 L146.95,286.18 L143.69,285.97 L140.32,286.04 L136.87,286.4 L133.37,287.05 L133.4,287.05" fill="none" stroke-width="0.85"/><path d="M129.83,288.02 L133.42,285.23 L134.34,288.6 Z" stroke="none"/>
<path d="M146.58,290.36 L142.33,290.47 L137.93,291.1 L133.47,292.28 L129,294.04 L124.58,296.37 L123.36,297.21" fill="none" stroke-width="0.85"/><path d="M120.3,299.29 L122.79,295.48 L124.76,298.37 Z" stroke="none"/>
<path d="M144.48,292.94 L139.83,293.32 L135.06,294.36 L130.24,296.09 L125.49,298.52 L120.87,301.66 L119.29,303.05" fill="none" stroke-width="0.85"/><path d="M116.5,305.49 L118.51,301.41 L120.82,304.04 Z" stroke="none"/>
<path d="M134.1,296.79 L130.68,299.1 L127.42,301.82 L124.38,304.95 L121.59,308.47 L119.11,312.36 L118.64,313.28" fill="none" stroke-width="0.85"/><path d="M116.98,316.58 L117.31,312.05 L120.43,313.62 Z" stroke="none"/>
<path d="M128.2,304.78 L126.11,306.77 L124.11,308.95 L122.24,311.33 L120.51,313.89 L118.92,316.62 L119.13,316.19" fill="none" stroke-width="0.85"/><path d="M117.51,319.52 L117.78,314.97 L120.92,316.51 Z" stroke="none"/>
<path d="M132.85,309.59 L128.89,312.12 L125.12,315.31 L121.65,319.15 L118.57,323.6 L115.96,328.63 L115.2,330.7" fill="none" stroke-width="0.85"/><path d="M113.91,334.17 L113.73,329.63 L117.01,330.84 Z" stroke="none"/>
<path d="M127.3,317.56 L124.93,320.71 L122.82,324.22 L121.03,328.07 L119.59,332.23 L118.55,336.66 L118.42,337.66" fill="none" stroke-width="0.85"/><path d="M117.94,341.33 L116.75,336.94 L120.22,337.39 Z" stroke="none"/>
<path d="M126.77,324.09 L125.71,328.03 L125.06,332.18 L124.84,336.5 L125.09,340.95 L125.82,345.48 L126.09,346.45" fill="none" stroke-width="0.85"/><path d="M127.06,350.02 L124.27,346.43 L127.64,345.51 Z" stroke="none"/>
<path d="M127.32,329.27 L126.41,333.53 L125.98,338.02 L126.07,342.69 L126.7,347.49 L127.91,352.35 L128.42,353.73" fill="none" stroke-width="0.85"/><path d="M129.7,357.2 L126.6,353.87 L129.89,352.66 Z" stroke="none"/>
<path d="M128.19,340.06 L128.36,342.91 L128.75,345.81 L129.35,348.74 L130.18,351.69 L131.24,354.62 L131.03,354.16" fill="none" stroke-width="0.85"/><path d="M132.53,357.54 L129.23,354.4 L132.43,352.99 Z" stroke="none"/>
<path d="M133.22,344.39 L134.1,348.5 L135.47,352.63 L137.36,356.72 L139.75,360.71 L142.65,364.55 L143.52,365.47" fill="none" stroke-width="0.85"/><path d="M146.05,368.17 L141.9,366.31 L144.45,363.91 Z" stroke="none"/>
<path d="M136.34,351.99 L138,355.32 L140.02,358.57 L142.38,361.7 L145.09,364.68 L148.13,367.47 L148.55,367.79" fill="none" stroke-width="0.85"/><path d="M151.49,370.04 L147.09,368.88 L149.22,366.1 Z" stroke="none"/>
<path d="M142.13,348.88 L143.41,354.08 L145.59,359.31 L148.7,364.41 L152.72,369.24 L157.63,373.66 L160.31,375.47" fill="none" stroke-width="0.85"/><path d="M163.38,377.53 L158.92,376.64 L160.87,373.73 Z" stroke="none"/>
<path d="M149.14,353.84 L151.28,358.25 L154.17,362.52 L157.78,366.55 L162.1,370.22 L167.1,373.43 L169.37,374.51" fill="none" stroke-width="0.85"/><path d="M172.71,376.1 L168.17,375.88 L169.67,372.72 Z" stroke="none"/>
<path d="M157.01,358.88 L159.3,361.49 L161.92,363.95 L164.87,366.22 L168.12,368.27 L171.66,370.06 L172.04,370.21" fill="none" stroke-width="0.85"/><path d="M175.48,371.58 L170.93,371.65 L172.22,368.4 Z" stroke="none"/>
<path d="M165.64,364.03 L168.43,365.44 L171.4,366.65 L174.54,367.66 L177.83,368.43 L181.26,368.96 L181.12,368.95" fill="none" stroke-width="0.85"/><path d="M184.81,369.23 L180.49,370.66 L180.75,367.17 Z" stroke="none"/>
<path d="M166.68,361.57 L170.84,363.52 L175.4,365 L180.3,365.96 L185.47,366.35 L190.86,366.11 L192.74,365.81" fill="none" stroke-width="0.85"/><path d="M196.39,365.22 L192.52,367.62 L191.96,364.16 Z" stroke="none"/>
<path d="M178.88,358.67 L182.28,359.53 L185.86,360.07 L189.6,360.28 L193.46,360.14 L197.42,359.63 L197.83,359.53" fill="none" stroke-width="0.85"/><path d="M201.45,358.73 L197.73,361.35 L196.97,357.94 Z" stroke="none"/>
<path d="M184.88,358.43 L187.67,358.32 L190.52,358.01 L193.4,357.48 L196.3,356.72 L199.22,355.74 L198.7,355.96" fill="none" stroke-width="0.85"/><path d="M202.11,354.53 L198.91,357.76 L197.56,354.53 Z" stroke="none"/>
<path d="M190.94,354.02 L193.88,353.2 L196.82,352.11 L199.74,350.76 L202.61,349.15 L205.42,347.27 L205.23,347.42" fill="none" stroke-width="0.85"/><path d="M208.13,345.13 L205.92,349.11 L203.75,346.36 Z" stroke="none"/>
<path d="M198.93,346.81 L201.59,345.68 L204.23,344.32 L206.83,342.73 L209.36,340.9 L211.82,338.84 L211.52,339.13" fill="none" stroke-width="0.85"/><path d="M214.18,336.56 L212.38,340.74 L209.94,338.22 Z" stroke="none"/>
<path d="M195.35,345.99 L199.95,344.23 L204.48,341.75 L208.84,338.53 L212.92,334.6 L216.62,329.98 L217.91,327.87" fill="none" stroke-width="0.85"/><path d="M219.84,324.71 L219.14,329.21 L216.16,327.38 Z" stroke="none"/>
<path d="M204.21,338.25 L206.79,335.76 L209.2,332.95 L211.42,329.85 L213.41,326.47 L215.14,322.82 L215.29,322.41" fill="none" stroke-width="0.85"/><path d="M216.57,318.94 L216.76,323.48 L213.47,322.27 Z" stroke="none"/>
<path d="M207.73,329 L209.58,325.81 L211.17,322.37 L212.48,318.71 L213.49,314.83 L214.16,310.77 L214.2,310.26" fill="none" stroke-width="0.85"/><path d="M214.49,306.57 L215.91,310.89 L212.42,310.62 Z" stroke="none"/>
<path d="M209.61,325.11 L211.53,320.96 L213.04,316.47 L214.08,311.68 L214.63,306.65 L214.65,301.43 L214.48,299.75" fill="none" stroke-width="0.85"/><path d="M214.1,296.07 L216.27,300.07 L212.79,300.43 Z" stroke="none"/>
<path d="M207.48,314.46 L208.35,311.17 L208.96,307.72 L209.29,304.13 L209.33,300.42 L209.04,296.63 L209.01,296.42" fill="none" stroke-width="0.85"/><path d="M208.44,292.77 L210.82,296.65 L207.36,297.19 Z" stroke="none"/>
<path d="M204.07,311.63 L205.66,306.72 L206.63,301.4 L206.91,295.75 L206.43,289.84 L205.17,283.77 L204.27,281.16" fill="none" stroke-width="0.85"/><path d="M203.07,277.66 L206.08,281.06 L202.77,282.2 Z" stroke="none"/>
<path d="M200.43,304.99 L201.16,299.94 L201.2,294.59 L200.51,289.02 L199.03,283.34 L196.74,277.64 L195.42,275.27" fill="none" stroke-width="0.85"/><path d="M193.63,272.03 L197.2,274.86 L194.14,276.55 Z" stroke="none"/>
<path d="M196.88,292.57 L196.16,289.65 L195.2,286.72 L193.99,283.79 L192.55,280.89 L190.85,278.02 L191.02,278.26" fill="none" stroke-width="0.85"/><path d="M188.91,275.22 L192.74,277.68 L189.86,279.67 Z" stroke="none"/>
<path d="M193.55,291.47 L191.66,287.77 L189.33,284.17 L186.55,280.72 L183.34,277.47 L179.7,274.48 L178.75,273.84" fill="none" stroke-width="0.85"/><path d="M175.67,271.78 L180.13,272.66 L178.19,275.57 Z" stroke="none"/>
<path d="M185.26,283.79 L183.35,281.37 L181.21,279.05 L178.84,276.84 L176.26,274.76 L173.47,272.82 L173.66,272.94" fill="none" stroke-width="0.85"/><path d="M170.47,271.06 L174.98,271.68 L173.2,274.7 Z" stroke="none"/>
<path d="M182.68,288.01 L180.43,283.84 L177.55,279.81 L174.03,276.01 L169.9,272.51 L165.2,269.41 L163.26,268.43" fill="none" stroke-width="0.85"/><path d="M159.95,266.77 L164.49,267.09 L162.92,270.22 Z" stroke="none"/>
<path d="M173.7,280.72 L170.91,278.59 L167.86,276.65 L164.56,274.94 L161.03,273.47 L157.28,272.27 L156.95,272.19" fill="none" stroke-width="0.85"/><path d="M153.34,271.36 L157.83,270.6 L157.04,274.01 Z" stroke="none"/>
<path d="M167.76,276.88 L164.9,275.7 L161.91,274.71 L158.79,273.91 L155.55,273.32 L152.22,272.95 L152.5,272.96" fill="none" stroke-width="0.85"/><path d="M148.8,272.81 L153.07,271.24 L152.92,274.73 Z" stroke="none"/>
<path d="M159.42,279.75 L156.24,278.27 L152.85,277.02 L149.26,276.03 L145.49,275.32 L141.56,274.92 L141.2,274.91" fill="none" stroke-width="0.85"/><path d="M137.5,274.83 L141.74,273.17 L141.66,276.67 Z" stroke="none"/>
<path d="M152.59,281.3 L149.57,281.21 L146.48,281.33 L143.34,281.68 L140.16,282.28 L136.98,283.11 L137.3,283" fill="none" stroke-width="0.85"/><path d="M133.79,284.19 L137.21,281.18 L138.33,284.5 Z" stroke="none"/>
<path d="M145.81,283.61 L142.9,283.95 L139.96,284.5 L137,285.27 L134.04,286.26 L131.09,287.47 L131.5,287.27" fill="none" stroke-width="0.85"/><path d="M128.18,288.92 L131.17,285.48 L132.72,288.62 Z" stroke="none"/>
<path d="M145.33,288.93 L140.43,288.96 L135.36,289.65 L130.19,291.04 L125.01,293.14 L119.92,295.97 L118,297.36" fill="none" stroke-width="0.85"/><path d="M115.01,299.54 L117.38,295.65 L119.43,298.49 Z" stroke="none"/>
<path d="M137.01,291.65 L133.32,292.98 L129.65,294.72 L126.06,296.86 L122.59,299.41 L119.27,302.36 L118.68,302.99" fill="none" stroke-width="0.85"/><path d="M116.16,305.7 L117.74,301.43 L120.3,303.82 Z" stroke="none"/>
<path d="M134.09,298.13 L130.58,299.22 L127.09,300.69 L123.63,302.55 L120.25,304.78 L116.98,307.4 L116.54,307.83" fill="none" stroke-width="0.85"/><path d="M113.87,310.4 L115.68,306.22 L118.11,308.75 Z" stroke="none"/>
<path d="M131.36,303.85 L127.48,305.93 L123.71,308.55 L120.13,311.72 L116.79,315.4 L113.77,319.59 L112.94,321.04" fill="none" stroke-width="0.85"/><path d="M111.12,324.26 L111.67,319.74 L114.71,321.47 Z" stroke="none"/>
<path d="M124.38,309.99 L122.21,312.51 L120.19,315.28 L118.36,318.27 L116.73,321.48 L115.32,324.89 L115.29,324.96" fill="none" stroke-width="0.85"/><path d="M114.15,328.48 L113.78,323.95 L117.11,325.03 Z" stroke="none"/>
<path d="M128.68,316.69 L125.35,320.28 L122.4,324.46 L119.91,329.21 L117.95,334.47 L116.62,340.18 L116.36,342.58" fill="none" stroke-width="0.85"/><path d="M115.97,346.26 L114.68,341.9 L118.16,342.27 Z" stroke="none"/>
<path d="M126.43,320.45 L123.63,324.12 L121.2,328.28 L119.2,332.89 L117.68,337.89 L116.71,343.25 L116.57,345.21" fill="none" stroke-width="0.85"/><path d="M116.33,348.9 L114.86,344.59 L118.35,344.83 Z" stroke="none"/>
<path d="M121.98,334.99 L121.59,337.74 L121.38,340.56 L121.35,343.45 L121.5,346.39 L121.84,349.37 L121.72,348.75" fill="none" stroke-width="0.85"/><path d="M122.37,352.39 L119.91,348.56 L123.36,347.95 Z" stroke="none"/>
<path d="M130.19,334.85 L128.72,339.62 L127.87,344.79 L127.71,350.27 L128.27,355.99 L129.62,361.84 L130.5,364.25" fill="none" stroke-width="0.85"/><path d="M131.77,367.73 L128.68,364.38 L131.97,363.18 Z" stroke="none"/>
<path d="M128.03,345 L128.27,348.16 L128.76,351.37 L129.5,354.61 L130.51,357.87 L131.79,361.13 L131.74,361.02" fill="none" stroke-width="0.85"/><path d="M133.34,364.35 L129.95,361.33 L133.1,359.81 Z" stroke="none"/>
<path d="M134.07,349.52 L134.94,353.92 L136.36,358.37 L138.33,362.79 L140.87,367.14 L143.97,371.34 L145.12,372.59" fill="none" stroke-width="0.85"/><path d="M147.63,375.32 L143.5,373.41 L146.08,371.04 Z" stroke="none"/>
<path d="M136.03,356.2 L138.08,359.53 L140.47,362.74 L143.2,365.8 L146.27,368.67 L149.65,371.33 L150.24,371.71" fill="none" stroke-width="0.85"/><path d="M153.34,373.73 L148.87,372.9 L150.78,369.97 Z" stroke="none"/>
<path d="M142.1,354.23 L144.09,358.7 L146.75,363.08 L150.08,367.26 L154.07,371.16 L158.69,374.68 L160.72,375.87" fill="none" stroke-width="0.85"/><path d="M163.91,377.74 L159.4,377.13 L161.17,374.11 Z" stroke="none"/>
<path d="M149.57,362.75 L151.75,365.41 L154.2,367.95 L156.94,370.34 L159.95,372.57 L163.21,374.6 L163.43,374.71" fill="none" stroke-width="0.85"/><path d="M166.72,376.41 L162.19,376.04 L163.79,372.93 Z" stroke="none"/>
<path d="M157.26,365.79 L159.61,367.61 L162.14,369.3 L164.85,370.84 L167.73,372.21 L170.77,373.41 L170.43,373.3" fill="none" stroke-width="0.85"/><path d="M173.95,374.42 L169.42,374.82 L170.48,371.48 Z" stroke="none"/>
<path d="M164.48,364.12 L167.38,365.79 L170.5,367.24 L173.83,368.47 L177.34,369.44 L181.02,370.14 L181.17,370.15" fill="none" stroke-width="0.85"/><path d="M184.85,370.54 L180.49,371.84 L180.86,368.36 Z" stroke="none"/>
<path d="M169.84,363.37 L173.4,365.41 L177.3,367.13 L181.5,368.49 L185.97,369.45 L190.68,369.98 L191.88,369.99" fill="none" stroke-width="0.85"/><path d="M195.58,370.05 L191.36,371.74 L191.41,368.24 Z" stroke="none"/>
<path d="M179.03,363.41 L182.81,363.6 L186.69,363.43 L190.65,362.9 L194.65,361.99 L198.66,360.69 L199.23,360.45" fill="none" stroke-width="0.85"/><path d="M202.63,359 L199.46,362.25 L198.08,359.03 Z" stroke="none"/>
<path d="M183.71,359.82 L187.98,359.55 L192.36,358.8 L196.77,357.55 L201.16,355.78 L205.49,353.49 L206.6,352.74" fill="none" stroke-width="0.85"/><path d="M209.67,350.67 L207.17,354.47 L205.21,351.56 Z" stroke="none"/>
<path d="M188.47,357.49 L192.69,356.85 L196.96,355.73 L201.24,354.11 L205.47,351.97 L209.58,349.32 L210.63,348.48" fill="none" stroke-width="0.85"/><path d="M213.52,346.17 L211.34,350.16 L209.15,347.43 Z" stroke="none"/>
<path d="M192.83,353.63 L197.24,351.97 L201.59,349.71 L205.79,346.85 L209.77,343.41 L213.44,339.4 L214.56,337.84" fill="none" stroke-width="0.85"/><path d="M216.73,334.84 L215.69,339.27 L212.85,337.22 Z" stroke="none"/>
<path d="M198.75,347.35 L202.26,345.82 L205.73,343.9 L209.1,341.57 L212.34,338.85 L215.41,335.73 L215.92,335.1" fill="none" stroke-width="0.85"/><path d="M218.26,332.23 L216.96,336.6 L214.25,334.38 Z" stroke="none"/>
<path d="M202.06,341.53 L205.64,338.9 L209.02,335.77 L212.14,332.14 L214.94,328.04 L217.37,323.49 L217.97,321.98" fill="none" stroke-width="0.85"/><path d="M219.35,318.55 L219.41,323.1 L216.16,321.8 Z" stroke="none"/>
<path d="M205.86,332.23 L208.48,329.68 L210.93,326.8 L213.18,323.61 L215.19,320.11 L216.93,316.33 L217.13,315.77" fill="none" stroke-width="0.85"/><path d="M218.37,312.29 L218.61,316.83 L215.31,315.65 Z" stroke="none"/>
<path d="M209.89,328.7 L212.42,325.96 L214.76,322.92 L216.9,319.58 L218.8,315.96 L220.43,312.08 L220.63,311.48" fill="none" stroke-width="0.85"/><path d="M221.77,307.96 L222.14,312.49 L218.81,311.41 Z" stroke="none"/>
<path d="M213.15,323.7 L214.57,320.72 L215.8,317.58 L216.82,314.27 L217.61,310.83 L218.17,307.25 L218.17,307.24" fill="none" stroke-width="0.85"/><path d="M218.48,303.56 L219.87,307.89 L216.38,307.6 Z" stroke="none"/>
<path d="M211.1,312.93 L211.73,309.88 L212.15,306.73 L212.35,303.48 L212.32,300.15 L212.06,296.76 L212.09,296.98" fill="none" stroke-width="0.85"/><path d="M211.55,293.32 L213.9,297.22 L210.43,297.73 Z" stroke="none"/>
<path d="M209.59,305.71 L209.38,302.7 L208.96,299.66 L208.34,296.6 L207.49,293.54 L206.43,290.48 L206.59,290.85" fill="none" stroke-width="0.85"/><path d="M205.15,287.44 L208.39,290.63 L205.17,291.99 Z" stroke="none"/>
<path d="M205.65,306.92 L206.73,301.97 L207.22,296.7 L207.06,291.19 L206.22,285.5 L204.65,279.71 L203.72,277.36" fill="none" stroke-width="0.85"/><path d="M202.35,273.92 L205.53,277.17 L202.28,278.47 Z" stroke="none"/>
<path d="M202.83,298.63 L201.93,293.92 L200.46,289.16 L198.39,284.43 L195.72,279.81 L192.44,275.36 L191.08,273.89" fill="none" stroke-width="0.85"/><path d="M188.58,271.16 L192.71,273.07 L190.13,275.44 Z" stroke="none"/>
<path d="M200.21,289.99 L198.23,286.12 L195.83,282.37 L193.02,278.77 L189.81,275.36 L186.21,272.19 L185.23,271.47" fill="none" stroke-width="0.85"/><path d="M182.24,269.29 L186.66,270.35 L184.6,273.18 Z" stroke="none"/>
<path d="M193.92,286.64 L192.14,283.51 L190.05,280.47 L187.66,277.52 L184.97,274.72 L181.98,272.07 L181.67,271.84" fill="none" stroke-width="0.85"/><path d="M178.72,269.61 L183.13,270.74 L181.02,273.54 Z" stroke="none"/>
<path d="M189.75,280.78 L187.67,278.08 L185.35,275.48 L182.78,273 L179.98,270.66 L176.94,268.48 L176.84,268.42" fill="none" stroke-width="0.85"/><path d="M173.68,266.48 L178.18,267.18 L176.35,270.17 Z" stroke="none"/>
<path d="M185.54,282.09 L182.16,278.63 L178.29,275.47 L173.94,272.66 L169.17,270.26 L164.01,268.34 L162.09,267.85" fill="none" stroke-width="0.85"/><path d="M158.5,266.94 L163,266.28 L162.14,269.67 Z" stroke="none"/>
<path d="M175.12,280.23 L171.42,277.48 L167.3,275.07 L162.77,273.06 L157.89,271.49 L152.69,270.42 L150.91,270.25" fill="none" stroke-width="0.85"/><path d="M147.23,269.89 L151.58,268.56 L151.24,272.04 Z" stroke="none"/>
<path d="M166.97,279.42 L163.81,277.17 L160.34,275.15 L156.57,273.42 L152.54,271.98 L148.25,270.89 L147.4,270.75" fill="none" stroke-width="0.85"/><path d="M143.75,270.16 L148.18,269.1 L147.62,272.56 Z" stroke="none"/>
<path d="M163.48,276.5 L158.94,275.43 L154.19,274.83 L149.27,274.71 L144.22,275.1 L139.11,276.04 L137.54,276.49" fill="none" stroke-width="0.85"/><path d="M133.98,277.52 L137.53,274.67 L138.5,278.03 Z" stroke="none"/>
<path d="M154.1,278.9 L149.72,278.8 L145.24,279.14 L140.69,279.94 L136.13,281.21 L131.59,282.97 L130.44,283.56" fill="none" stroke-width="0.85"/><path d="M127.14,285.22 L130.1,281.77 L131.68,284.89 Z" stroke="none"/>
<path d="M150.53,279.25 L145.77,279.15 L140.86,279.57 L135.86,280.54 L130.83,282.09 L125.84,284.21 L124.19,285.13" fill="none" stroke-width="0.85"/><path d="M120.95,286.93 L123.78,283.36 L125.48,286.42 Z" stroke="none"/>
<path d="M136.45,284.51 L133.08,285.5 L129.72,286.78 L126.39,288.34 L123.11,290.19 L119.9,292.33 L119.71,292.48" fill="none" stroke-width="0.85"/><path d="M116.8,294.75 L119.03,290.79 L121.18,293.55 Z" stroke="none"/>
<path d="M134.01,291.12 L130.63,292.05 L127.24,293.29 L123.87,294.85 L120.54,296.72 L117.29,298.92 L117.03,299.12" fill="none" stroke-width="0.85"/><path d="M114.14,301.43 L116.33,297.44 L118.51,300.18 Z" stroke="none"/>
<path d="M127.03,295.29 L124.37,296.5 L121.73,297.91 L119.13,299.52 L116.58,301.33 L114.09,303.35 L114.41,303.05" fill="none" stroke-width="0.85"/><path d="M111.69,305.56 L113.59,301.43 L115.97,304 Z" stroke="none"/>
<path d="M127.34,298.49 L123.8,301.66 L120.53,305.29 L117.57,309.37 L115,313.86 L112.85,318.72 L112.31,320.4" fill="none" stroke-width="0.85"/><path d="M111.18,323.92 L110.8,319.39 L114.13,320.46 Z" stroke="none"/>
<path d="M128.57,306.12 L124.06,308.79 L119.75,312.19 L115.73,316.3 L112.11,321.09 L108.97,326.53 L107.85,329.15" fill="none" stroke-width="0.85"/><path d="M106.41,332.55 L106.44,328 L109.66,329.37 Z" stroke="none"/>
<path d="M119.94,313.3 L117.65,316.32 L115.57,319.63 L113.72,323.19 L112.13,327 L110.83,331.03 L110.68,331.67" fill="none" stroke-width="0.85"/><path d="M109.84,335.27 L109.09,330.78 L112.5,331.58 Z" stroke="none"/>
<path d="M122.08,318.19 L119.25,322.01 L116.78,326.28 L114.71,330.98 L113.11,336.07 L112.03,341.49 L111.84,343.52" fill="none" stroke-width="0.85"/><path d="M111.5,347.2 L110.14,342.86 L113.63,343.18 Z" stroke="none"/>
<path d="M121.09,328.56 L120.04,332.53 L119.35,336.71 L119.04,341.07 L119.14,345.56 L119.68,350.15 L119.89,351.18" fill="none" stroke-width="0.85"/><path d="M120.65,354.8 L118.08,351.05 L121.5,350.33 Z" stroke="none"/>
<path d="M121.57,332.72 L121.22,337.13 L121.31,341.67 L121.87,346.31 L122.92,350.99 L124.45,355.68 L125,356.92" fill="none" stroke-width="0.85"/><path d="M126.49,360.3 L123.2,357.17 L126.4,355.76 Z" stroke="none"/>
<path d="M125.09,344.46 L125.7,347.65 L126.55,350.86 L127.65,354.06 L129,357.23 L130.61,360.35 L130.55,360.25" fill="none" stroke-width="0.85"/><path d="M132.47,363.42 L128.8,360.74 L131.79,358.92 Z" stroke="none"/>
<path d="M129.42,349.16 L129.46,352.99 L129.86,356.91 L130.62,360.91 L131.75,364.95 L133.28,369 L133.6,369.68" fill="none" stroke-width="0.85"/><path d="M135.19,373.02 L131.8,369.98 L134.97,368.48 Z" stroke="none"/>
<path d="M134.48,356.74 L136.1,359.61 L137.97,362.4 L140.08,365.11 L142.43,367.71 L145,370.18 L144.96,370.14" fill="none" stroke-width="0.85"/><path d="M147.81,372.5 L143.46,371.17 L145.69,368.47 Z" stroke="none"/>
<path d="M137.7,356.54 L139.58,360.49 L141.94,364.36 L144.77,368.09 L148.07,371.63 L151.83,374.93 L153.02,375.77" fill="none" stroke-width="0.85"/><path d="M156.03,377.92 L151.6,376.91 L153.63,374.06 Z" stroke="none"/>
<path d="M143.43,361.49 L145.62,365.2 L148.26,368.79 L151.34,372.22 L154.86,375.44 L158.81,378.4 L159.99,379.13" fill="none" stroke-width="0.85"/><path d="M163.15,381.05 L158.66,380.36 L160.48,377.37 Z" stroke="none"/>
<path d="M150.45,367.59 L153.78,370.13 L157.42,372.41 L161.35,374.41 L165.54,376.1 L169.98,377.43 L171.01,377.64" fill="none" stroke-width="0.85"/><path d="M174.64,378.38 L170.17,379.25 L170.87,375.82 Z" stroke="none"/>
<path d="M156.03,368 L159.32,370.36 L162.91,372.48 L166.79,374.31 L170.94,375.83 L175.32,377.01 L176.27,377.17" fill="none" stroke-width="0.85"/><path d="M179.91,377.82 L175.47,378.81 L176.08,375.36 Z" stroke="none"/>
<path d="M164.56,368.72 L167.6,369.99 L170.79,371.05 L174.13,371.89 L177.6,372.5 L181.18,372.86 L181.16,372.86" fill="none" stroke-width="0.85"/><path d="M184.86,372.96 L180.61,374.6 L180.71,371.1 Z" stroke="none"/>
<path d="M172.7,367.73 L176.63,368.7 L180.76,369.33 L185.04,369.57 L189.46,369.43 L193.96,368.87 L194.91,368.67" fill="none" stroke-width="0.85"/><path d="M198.52,367.88 L194.79,370.48 L194.05,367.06 Z" stroke="none"/>
<path d="M181.38,367.49 L185.25,367.6 L189.21,367.38 L193.25,366.8 L197.32,365.87 L201.4,364.57 L202.04,364.31" fill="none" stroke-width="0.85"/><path d="M205.46,362.9 L202.24,366.12 L200.91,362.88 Z" stroke="none"/>
<path d="M183.17,365.06 L188.02,364.69 L192.96,363.77 L197.92,362.28 L202.84,360.19 L207.64,357.51 L209.24,356.38" fill="none" stroke-width="0.85"/><path d="M212.26,354.25 L209.85,358.1 L207.82,355.24 Z" stroke="none"/>
<path d="M187.94,356.8 L192.88,356.97 L198.02,356.49 L203.29,355.34 L208.6,353.48 L213.87,350.9 L215.89,349.6" fill="none" stroke-width="0.85"/><path d="M219,347.6 L216.42,351.35 L214.53,348.4 Z" stroke="none"/>
<path d="M200.87,357.2 L203.58,355.92 L206.25,354.44 L208.88,352.76 L211.43,350.88 L213.91,348.81 L213.61,349.1" fill="none" stroke-width="0.85"/><path d="M216.3,346.55 L214.45,350.71 L212.05,348.17 Z" stroke="none"/>
<path d="M200.79,352.33 L205.12,350.19 L209.34,347.5 L213.39,344.25 L217.18,340.46 L220.67,336.15 L221.77,334.44" fill="none" stroke-width="0.85"/><path d="M223.78,331.34 L222.97,335.81 L220.03,333.91 Z" stroke="none"/>
<path d="M207.46,343.75 L210.47,341.89 L213.41,339.73 L216.24,337.27 L218.94,334.53 L221.49,331.5 L221.7,331.21" fill="none" stroke-width="0.85"/><path d="M223.86,328.2 L222.83,332.64 L219.99,330.59 Z" stroke="none"/>
<path d="M206.23,339.71 L209.52,337.08 L212.63,334.03 L215.52,330.56 L218.14,326.7 L220.44,322.47 L220.94,321.3" fill="none" stroke-width="0.85"/><path d="M222.39,317.89 L222.35,322.44 L219.13,321.07 Z" stroke="none"/>
<line x1="157.1" y1="322.5" x2="155.53" y2="311.66" stroke-width="0.85"/><path d="M155,308 L157.19,311.93 L154.02,312.39 Z"/>
<line x1="164.4" y1="315.2" x2="175.41" y2="311.33" stroke-width="0.85"/><path d="M178.9,310.1 L175.47,313 L174.41,309.98 Z"/>
<line x1="168.2" y1="318.2" x2="178.22" y2="323.4" stroke-width="0.85"/><path d="M181.5,325.1 L177.04,324.59 L178.51,321.75 Z"/>
<line x1="174.2" y1="322.5" x2="176.15" y2="333.36" stroke-width="0.85"/><path d="M176.8,337 L174.48,333.15 L177.63,332.58 Z"/>
<line x1="166.9" y1="330.2" x2="156.8" y2="333.69" stroke-width="0.85"/><path d="M153.3,334.9 L156.75,332.02 L157.79,335.04 Z"/>
<line x1="163.1" y1="326.8" x2="153.57" y2="321.74" stroke-width="0.85"/><path d="M150.3,320 L154.76,320.56 L153.26,323.38 Z"/>
<line x1="165.7" y1="319.1" x2="168.75" y2="313.01" stroke-width="0.85"/><path d="M170.4,309.7 L169.95,314.17 L167.09,312.74 Z"/>
<line x1="166.1" y1="326.8" x2="163.81" y2="331.57" stroke-width="0.85"/><path d="M162.2,334.9 L162.58,330.42 L165.46,331.81 Z"/>
<path d="M163.8,316.5 L168.6,320 L163.6,325 L168.4,328.8" fill="none" stroke-width="0.9"/>
</g></g>
<rect x="74.2" y="231.3" width="184.1" height="182.7" fill="none" stroke="#000" stroke-width="2"/>
<line x1="70" y1="395.8" x2="74.2" y2="395.8" stroke="#000" stroke-width="2"/>
<line x1="92.8" y1="414.0" x2="92.8" y2="418.2" stroke="#000" stroke-width="2"/>
<text x="68.2" y="402" font-family='"Liberation Sans", sans-serif' font-size="23.2" font-weight="normal" text-anchor="end" fill="#000" >-0.2</text>
<text x="92.8" y="438.1" font-family='"Liberation Sans", sans-serif' font-size="22.3" font-weight="normal" text-anchor="middle" fill="#000" >-0.2</text>
<line x1="71.7" y1="359.2" x2="74.2" y2="359.2" stroke="#000" stroke-width="2"/>
<line x1="129.4" y1="414.0" x2="129.4" y2="416.5" stroke="#000" stroke-width="2"/>
<line x1="70" y1="322.6" x2="74.2" y2="322.6" stroke="#000" stroke-width="2"/>
<line x1="166" y1="414.0" x2="166" y2="418.2" stroke="#000" stroke-width="2"/>
<text x="68.2" y="328.8" font-family='"Liberation Sans", sans-serif' font-size="23.2" font-weight="normal" text-anchor="end" fill="#000" >0.0</text>
<text x="166" y="438.1" font-family='"Liberation Sans", sans-serif' font-size="22.3" font-weight="normal" text-anchor="middle" fill="#000" >0.0</text>
<line x1="71.7" y1="286" x2="74.2" y2="286" stroke="#000" stroke-width="2"/>
<line x1="202.6" y1="414.0" x2="202.6" y2="416.5" stroke="#000" stroke-width="2"/>
<line x1="70" y1="249.4" x2="74.2" y2="249.4" stroke="#000" stroke-width="2"/>
<line x1="239.2" y1="414.0" x2="239.2" y2="418.2" stroke="#000" stroke-width="2"/>
<text x="68.2" y="255.6" font-family='"Liberation Sans", sans-serif' font-size="23.2" font-weight="normal" text-anchor="end" fill="#000" >0.2</text>
<text x="239.2" y="438.1" font-family='"Liberation Sans", sans-serif' font-size="22.3" font-weight="normal" text-anchor="middle" fill="#000" >0.2</text>
<rect x="269.6" y="239.6" width="15.2" height="133.2" fill="url(#cbar)"/>
<text x="269" y="237.5" font-family='"Liberation Sans", sans-serif' font-size="19" font-weight="normal" text-anchor="start" fill="#000" >-0.14</text>
<text x="285.5" y="312.2" font-family='"Liberation Sans", sans-serif' font-size="19" font-weight="normal" text-anchor="start" fill="#000" >0.0</text>
<text x="273.6" y="388.2" font-family='"Liberation Sans", sans-serif' font-size="19" font-weight="normal" text-anchor="start" fill="#000" >0.14</text>
<path d="M270,391.8 L264.6,404 L270,416.2 M314.2,391.8 L319.6,404 L314.2,416.2" fill="none" stroke="#000" stroke-width="1.05"/>
<g font-family='"Liberation Serif", serif' font-size="20.5"><text x="271.2" y="409" font-style="italic">s</text><text x="279.4" y="413.4" font-size="13" font-style="italic">z</text><text x="287.3" y="409">(</text><text x="292.8" y="409" font-weight="bold">k</text><text x="305.6" y="409">)</text></g>
<g transform="translate(128.2,462.3)" font-family='"Liberation Sans", sans-serif' font-size="26"><text x="0" y="0">k</text><text x="12" y="0" font-size="18">x</text><text x="28.5" y="0">(</text><text x="37.3" y="0">Å</text><text x="55" y="-15" font-size="15">-1</text><text x="70" y="0">)</text></g>
<g transform="translate(26,361) rotate(-90)" font-family='"Liberation Sans", sans-serif' font-size="26"><text x="0" y="0">k</text><text x="12" y="0" font-size="16.5">y</text><text x="28.5" y="0">(</text><text x="37.3" y="0">Å</text><text x="55" y="-15" font-size="15">-1</text><text x="70" y="0">)</text></g>
</svg></body></html>
